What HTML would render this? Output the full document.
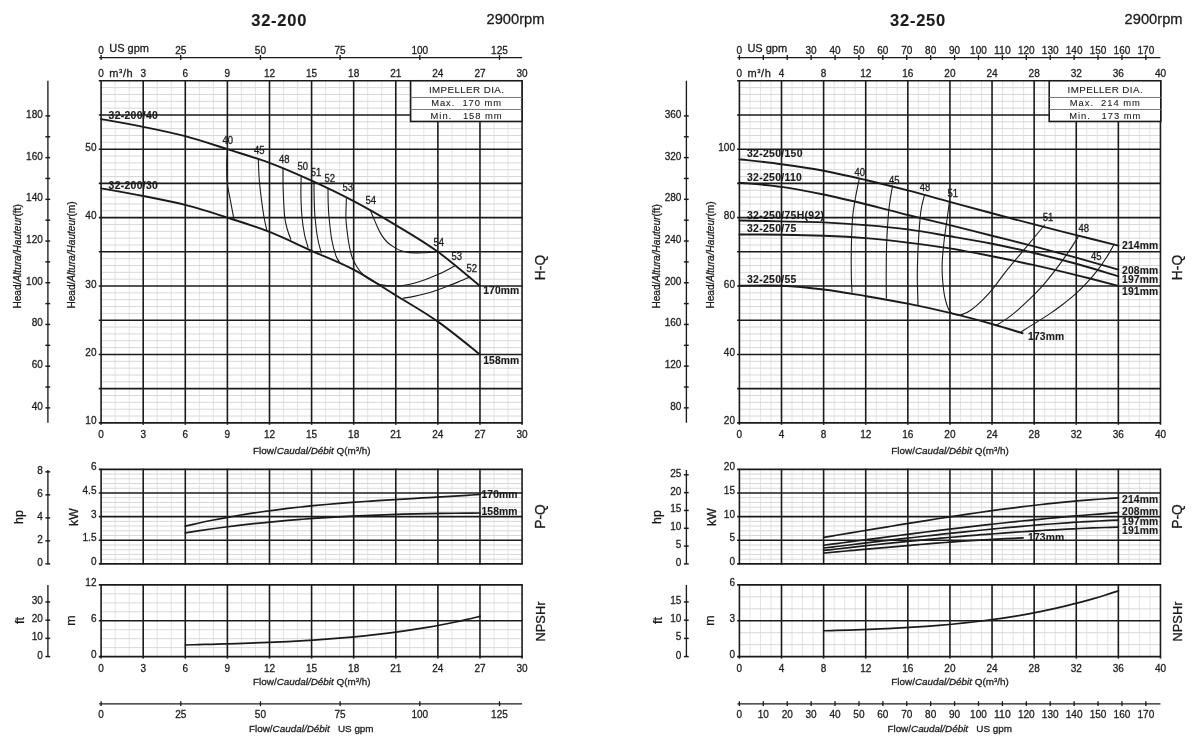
<!DOCTYPE html>
<html lang="en">
<head>
<meta charset="utf-8">
<title>Pump performance curves 32-200 / 32-250</title>
<style>
html,body{margin:0;padding:0;background:#fff;}
body{width:1200px;height:752px;overflow:hidden;}
svg{display:block;}
svg text{font-family:"Liberation Sans", "DejaVu Sans", sans-serif;fill:#1d1a1b;stroke:#231f20;stroke-width:0.3px;white-space:pre;}
</style>
</head>
<body>
<svg width="1200" height="752" viewBox="0 0 1200 752">
<rect x="0" y="0" width="1200" height="752" fill="#ffffff"/>
<text x="279.2" y="25.9" font-size="16.5" text-anchor="middle" font-weight="bold" style="stroke-width:0.12px" letter-spacing="0.75">32-200</text>
<text x="515.5" y="24.3" font-size="14.7" text-anchor="middle">2900rpm</text>
<line x1="99.1" y1="57.6" x2="522.07" y2="57.6" stroke="#1d1a1b" stroke-width="1.35"/>
<line x1="101.1" y1="55.1" x2="101.1" y2="59.9" stroke="#1d1a1b" stroke-width="1.35"/>
<text x="101.1" y="53.75" font-size="10.8" text-anchor="middle" textLength="5.58" lengthAdjust="spacingAndGlyphs">0</text>
<line x1="180.78" y1="55.1" x2="180.78" y2="59.9" stroke="#1d1a1b" stroke-width="1.35"/>
<text x="180.78" y="53.75" font-size="10.8" text-anchor="middle" textLength="11.17" lengthAdjust="spacingAndGlyphs">25</text>
<line x1="260.45" y1="55.1" x2="260.45" y2="59.9" stroke="#1d1a1b" stroke-width="1.35"/>
<text x="260.45" y="53.75" font-size="10.8" text-anchor="middle" textLength="11.17" lengthAdjust="spacingAndGlyphs">50</text>
<line x1="340.13" y1="55.1" x2="340.13" y2="59.9" stroke="#1d1a1b" stroke-width="1.35"/>
<text x="340.13" y="53.75" font-size="10.8" text-anchor="middle" textLength="11.17" lengthAdjust="spacingAndGlyphs">75</text>
<line x1="419.81" y1="55.1" x2="419.81" y2="59.9" stroke="#1d1a1b" stroke-width="1.35"/>
<text x="419.81" y="53.75" font-size="10.8" text-anchor="middle" textLength="16.75" lengthAdjust="spacingAndGlyphs">100</text>
<line x1="499.49" y1="55.1" x2="499.49" y2="59.9" stroke="#1d1a1b" stroke-width="1.35"/>
<text x="499.49" y="53.75" font-size="10.8" text-anchor="middle" textLength="16.75" lengthAdjust="spacingAndGlyphs">125</text>
<text x="109.2" y="52.1" font-size="11">US gpm</text>
<text x="101.1" y="76.6" font-size="10.8" text-anchor="middle" textLength="5.58" lengthAdjust="spacingAndGlyphs">0</text>
<text x="143.2" y="76.6" font-size="10.8" text-anchor="middle" textLength="5.58" lengthAdjust="spacingAndGlyphs">3</text>
<text x="185.29" y="76.6" font-size="10.8" text-anchor="middle" textLength="5.58" lengthAdjust="spacingAndGlyphs">6</text>
<text x="227.39" y="76.6" font-size="10.8" text-anchor="middle" textLength="5.58" lengthAdjust="spacingAndGlyphs">9</text>
<text x="269.49" y="76.6" font-size="10.8" text-anchor="middle" textLength="11.17" lengthAdjust="spacingAndGlyphs">12</text>
<text x="311.59" y="76.6" font-size="10.8" text-anchor="middle" textLength="11.17" lengthAdjust="spacingAndGlyphs">15</text>
<text x="353.68" y="76.6" font-size="10.8" text-anchor="middle" textLength="11.17" lengthAdjust="spacingAndGlyphs">18</text>
<text x="395.78" y="76.6" font-size="10.8" text-anchor="middle" textLength="11.17" lengthAdjust="spacingAndGlyphs">21</text>
<text x="437.88" y="76.6" font-size="10.8" text-anchor="middle" textLength="11.17" lengthAdjust="spacingAndGlyphs">24</text>
<text x="479.97" y="76.6" font-size="10.8" text-anchor="middle" textLength="11.17" lengthAdjust="spacingAndGlyphs">27</text>
<text x="522.07" y="76.6" font-size="10.8" text-anchor="middle" textLength="11.17" lengthAdjust="spacingAndGlyphs">30</text>
<text x="109.2" y="76.6" font-size="11" letter-spacing="0.6">m<tspan font-size="6" dy="-4">3</tspan><tspan dy="4">/h</tspan></text>
<line x1="115.13" y1="80.77" x2="115.13" y2="422.87" stroke="#e3e3e3" stroke-width="1"/>
<line x1="129.16" y1="80.77" x2="129.16" y2="422.87" stroke="#e3e3e3" stroke-width="1"/>
<line x1="157.23" y1="80.77" x2="157.23" y2="422.87" stroke="#e3e3e3" stroke-width="1"/>
<line x1="171.26" y1="80.77" x2="171.26" y2="422.87" stroke="#e3e3e3" stroke-width="1"/>
<line x1="199.33" y1="80.77" x2="199.33" y2="422.87" stroke="#e3e3e3" stroke-width="1"/>
<line x1="213.36" y1="80.77" x2="213.36" y2="422.87" stroke="#e3e3e3" stroke-width="1"/>
<line x1="241.42" y1="80.77" x2="241.42" y2="422.87" stroke="#e3e3e3" stroke-width="1"/>
<line x1="255.46" y1="80.77" x2="255.46" y2="422.87" stroke="#e3e3e3" stroke-width="1"/>
<line x1="283.52" y1="80.77" x2="283.52" y2="422.87" stroke="#e3e3e3" stroke-width="1"/>
<line x1="297.55" y1="80.77" x2="297.55" y2="422.87" stroke="#e3e3e3" stroke-width="1"/>
<line x1="325.62" y1="80.77" x2="325.62" y2="422.87" stroke="#e3e3e3" stroke-width="1"/>
<line x1="339.65" y1="80.77" x2="339.65" y2="422.87" stroke="#e3e3e3" stroke-width="1"/>
<line x1="367.71" y1="80.77" x2="367.71" y2="422.87" stroke="#e3e3e3" stroke-width="1"/>
<line x1="381.75" y1="80.77" x2="381.75" y2="422.87" stroke="#e3e3e3" stroke-width="1"/>
<line x1="409.81" y1="80.77" x2="409.81" y2="422.87" stroke="#e3e3e3" stroke-width="1"/>
<line x1="423.84" y1="80.77" x2="423.84" y2="422.87" stroke="#e3e3e3" stroke-width="1"/>
<line x1="451.91" y1="80.77" x2="451.91" y2="422.87" stroke="#e3e3e3" stroke-width="1"/>
<line x1="465.94" y1="80.77" x2="465.94" y2="422.87" stroke="#e3e3e3" stroke-width="1"/>
<line x1="494.01" y1="80.77" x2="494.01" y2="422.87" stroke="#e3e3e3" stroke-width="1"/>
<line x1="508.04" y1="80.77" x2="508.04" y2="422.87" stroke="#e3e3e3" stroke-width="1"/>
<line x1="101.1" y1="416.03" x2="522.07" y2="416.03" stroke="#d8d8d8" stroke-width="1"/>
<line x1="101.1" y1="409.19" x2="522.07" y2="409.19" stroke="#d8d8d8" stroke-width="1"/>
<line x1="101.1" y1="402.34" x2="522.07" y2="402.34" stroke="#d8d8d8" stroke-width="1"/>
<line x1="101.1" y1="395.5" x2="522.07" y2="395.5" stroke="#d8d8d8" stroke-width="1"/>
<line x1="101.1" y1="381.82" x2="522.07" y2="381.82" stroke="#d8d8d8" stroke-width="1"/>
<line x1="101.1" y1="374.98" x2="522.07" y2="374.98" stroke="#d8d8d8" stroke-width="1"/>
<line x1="101.1" y1="368.13" x2="522.07" y2="368.13" stroke="#d8d8d8" stroke-width="1"/>
<line x1="101.1" y1="361.29" x2="522.07" y2="361.29" stroke="#d8d8d8" stroke-width="1"/>
<line x1="101.1" y1="347.61" x2="522.07" y2="347.61" stroke="#d8d8d8" stroke-width="1"/>
<line x1="101.1" y1="340.77" x2="522.07" y2="340.77" stroke="#d8d8d8" stroke-width="1"/>
<line x1="101.1" y1="333.92" x2="522.07" y2="333.92" stroke="#d8d8d8" stroke-width="1"/>
<line x1="101.1" y1="327.08" x2="522.07" y2="327.08" stroke="#d8d8d8" stroke-width="1"/>
<line x1="101.1" y1="313.4" x2="522.07" y2="313.4" stroke="#d8d8d8" stroke-width="1"/>
<line x1="101.1" y1="306.56" x2="522.07" y2="306.56" stroke="#d8d8d8" stroke-width="1"/>
<line x1="101.1" y1="299.71" x2="522.07" y2="299.71" stroke="#d8d8d8" stroke-width="1"/>
<line x1="101.1" y1="292.87" x2="522.07" y2="292.87" stroke="#d8d8d8" stroke-width="1"/>
<line x1="101.1" y1="279.19" x2="522.07" y2="279.19" stroke="#d8d8d8" stroke-width="1"/>
<line x1="101.1" y1="272.35" x2="522.07" y2="272.35" stroke="#d8d8d8" stroke-width="1"/>
<line x1="101.1" y1="265.5" x2="522.07" y2="265.5" stroke="#d8d8d8" stroke-width="1"/>
<line x1="101.1" y1="258.66" x2="522.07" y2="258.66" stroke="#d8d8d8" stroke-width="1"/>
<line x1="101.1" y1="244.98" x2="522.07" y2="244.98" stroke="#d8d8d8" stroke-width="1"/>
<line x1="101.1" y1="238.14" x2="522.07" y2="238.14" stroke="#d8d8d8" stroke-width="1"/>
<line x1="101.1" y1="231.29" x2="522.07" y2="231.29" stroke="#d8d8d8" stroke-width="1"/>
<line x1="101.1" y1="224.45" x2="522.07" y2="224.45" stroke="#d8d8d8" stroke-width="1"/>
<line x1="101.1" y1="210.77" x2="522.07" y2="210.77" stroke="#d8d8d8" stroke-width="1"/>
<line x1="101.1" y1="203.93" x2="522.07" y2="203.93" stroke="#d8d8d8" stroke-width="1"/>
<line x1="101.1" y1="197.08" x2="522.07" y2="197.08" stroke="#d8d8d8" stroke-width="1"/>
<line x1="101.1" y1="190.24" x2="522.07" y2="190.24" stroke="#d8d8d8" stroke-width="1"/>
<line x1="101.1" y1="176.56" x2="522.07" y2="176.56" stroke="#d8d8d8" stroke-width="1"/>
<line x1="101.1" y1="169.72" x2="522.07" y2="169.72" stroke="#d8d8d8" stroke-width="1"/>
<line x1="101.1" y1="162.87" x2="522.07" y2="162.87" stroke="#d8d8d8" stroke-width="1"/>
<line x1="101.1" y1="156.03" x2="522.07" y2="156.03" stroke="#d8d8d8" stroke-width="1"/>
<line x1="101.1" y1="142.35" x2="522.07" y2="142.35" stroke="#d8d8d8" stroke-width="1"/>
<line x1="101.1" y1="135.51" x2="522.07" y2="135.51" stroke="#d8d8d8" stroke-width="1"/>
<line x1="101.1" y1="128.66" x2="522.07" y2="128.66" stroke="#d8d8d8" stroke-width="1"/>
<line x1="101.1" y1="121.82" x2="522.07" y2="121.82" stroke="#d8d8d8" stroke-width="1"/>
<line x1="101.1" y1="108.14" x2="522.07" y2="108.14" stroke="#d8d8d8" stroke-width="1"/>
<line x1="101.1" y1="101.3" x2="522.07" y2="101.3" stroke="#d8d8d8" stroke-width="1"/>
<line x1="101.1" y1="94.45" x2="522.07" y2="94.45" stroke="#d8d8d8" stroke-width="1"/>
<line x1="101.1" y1="87.61" x2="522.07" y2="87.61" stroke="#d8d8d8" stroke-width="1"/>
<line x1="101.1" y1="80.17" x2="101.1" y2="424.87" stroke="#1d1a1b" stroke-width="1.6"/>
<line x1="143.2" y1="80.17" x2="143.2" y2="424.87" stroke="#1d1a1b" stroke-width="1.6"/>
<line x1="185.29" y1="80.17" x2="185.29" y2="424.87" stroke="#1d1a1b" stroke-width="1.6"/>
<line x1="227.39" y1="80.17" x2="227.39" y2="424.87" stroke="#1d1a1b" stroke-width="1.6"/>
<line x1="269.49" y1="80.17" x2="269.49" y2="424.87" stroke="#1d1a1b" stroke-width="1.6"/>
<line x1="311.59" y1="80.17" x2="311.59" y2="424.87" stroke="#1d1a1b" stroke-width="1.6"/>
<line x1="353.68" y1="80.17" x2="353.68" y2="424.87" stroke="#1d1a1b" stroke-width="1.6"/>
<line x1="395.78" y1="80.17" x2="395.78" y2="424.87" stroke="#1d1a1b" stroke-width="1.6"/>
<line x1="437.88" y1="80.17" x2="437.88" y2="424.87" stroke="#1d1a1b" stroke-width="1.6"/>
<line x1="479.97" y1="80.17" x2="479.97" y2="424.87" stroke="#1d1a1b" stroke-width="1.6"/>
<line x1="522.07" y1="80.17" x2="522.07" y2="424.87" stroke="#1d1a1b" stroke-width="1.6"/>
<line x1="98.8" y1="422.87" x2="522.67" y2="422.87" stroke="#1d1a1b" stroke-width="1.6"/>
<line x1="98.8" y1="388.66" x2="522.67" y2="388.66" stroke="#1d1a1b" stroke-width="1.6"/>
<line x1="98.8" y1="354.45" x2="522.67" y2="354.45" stroke="#1d1a1b" stroke-width="1.6"/>
<line x1="98.8" y1="320.24" x2="522.67" y2="320.24" stroke="#1d1a1b" stroke-width="1.6"/>
<line x1="98.8" y1="286.03" x2="522.67" y2="286.03" stroke="#1d1a1b" stroke-width="1.6"/>
<line x1="98.8" y1="251.82" x2="522.67" y2="251.82" stroke="#1d1a1b" stroke-width="1.6"/>
<line x1="98.8" y1="217.61" x2="522.67" y2="217.61" stroke="#1d1a1b" stroke-width="1.6"/>
<line x1="98.8" y1="183.4" x2="522.67" y2="183.4" stroke="#1d1a1b" stroke-width="1.6"/>
<line x1="98.8" y1="149.19" x2="522.67" y2="149.19" stroke="#1d1a1b" stroke-width="1.6"/>
<line x1="98.8" y1="114.98" x2="522.67" y2="114.98" stroke="#1d1a1b" stroke-width="1.6"/>
<line x1="98.8" y1="80.77" x2="522.67" y2="80.77" stroke="#1d1a1b" stroke-width="1.6"/>
<text x="96.5" y="150.79" font-size="10.8" text-anchor="end" textLength="11.17" lengthAdjust="spacingAndGlyphs">50</text>
<text x="96.5" y="219.21" font-size="10.8" text-anchor="end" textLength="11.17" lengthAdjust="spacingAndGlyphs">40</text>
<text x="96.5" y="287.63" font-size="10.8" text-anchor="end" textLength="11.17" lengthAdjust="spacingAndGlyphs">30</text>
<text x="96.5" y="356.05" font-size="10.8" text-anchor="end" textLength="11.17" lengthAdjust="spacingAndGlyphs">20</text>
<text x="96.5" y="424.47" font-size="10.8" text-anchor="end" textLength="11.17" lengthAdjust="spacingAndGlyphs">10</text>
<text x="101.1" y="437.6" font-size="10.8" text-anchor="middle" textLength="5.58" lengthAdjust="spacingAndGlyphs">0</text>
<text x="143.2" y="437.6" font-size="10.8" text-anchor="middle" textLength="5.58" lengthAdjust="spacingAndGlyphs">3</text>
<text x="185.29" y="437.6" font-size="10.8" text-anchor="middle" textLength="5.58" lengthAdjust="spacingAndGlyphs">6</text>
<text x="227.39" y="437.6" font-size="10.8" text-anchor="middle" textLength="5.58" lengthAdjust="spacingAndGlyphs">9</text>
<text x="269.49" y="437.6" font-size="10.8" text-anchor="middle" textLength="11.17" lengthAdjust="spacingAndGlyphs">12</text>
<text x="311.59" y="437.6" font-size="10.8" text-anchor="middle" textLength="11.17" lengthAdjust="spacingAndGlyphs">15</text>
<text x="353.68" y="437.6" font-size="10.8" text-anchor="middle" textLength="11.17" lengthAdjust="spacingAndGlyphs">18</text>
<text x="395.78" y="437.6" font-size="10.8" text-anchor="middle" textLength="11.17" lengthAdjust="spacingAndGlyphs">21</text>
<text x="437.88" y="437.6" font-size="10.8" text-anchor="middle" textLength="11.17" lengthAdjust="spacingAndGlyphs">24</text>
<text x="479.97" y="437.6" font-size="10.8" text-anchor="middle" textLength="11.17" lengthAdjust="spacingAndGlyphs">27</text>
<text x="522.07" y="437.6" font-size="10.8" text-anchor="middle" textLength="11.17" lengthAdjust="spacingAndGlyphs">30</text>
<text x="370.6" y="454" font-size="9.9" text-anchor="end">Flow/<tspan font-style="italic">Caudal/Débit</tspan> Q(m<tspan font-size="6" dy="-3.4">3</tspan><tspan dy="3.4">/h)</tspan></text>
<line x1="47.9" y1="80.77" x2="47.9" y2="422.87" stroke="#1d1a1b" stroke-width="1.35"/>
<line x1="45.4" y1="407.87" x2="50.2" y2="407.87" stroke="#1d1a1b" stroke-width="1.45"/>
<text x="42.8" y="409.77" font-size="10.8" text-anchor="end" textLength="11.17" lengthAdjust="spacingAndGlyphs">40</text>
<line x1="45.4" y1="387.02" x2="50.2" y2="387.02" stroke="#1d1a1b" stroke-width="1.45"/>
<line x1="45.4" y1="366.16" x2="50.2" y2="366.16" stroke="#1d1a1b" stroke-width="1.45"/>
<text x="42.8" y="368.06" font-size="10.8" text-anchor="end" textLength="11.17" lengthAdjust="spacingAndGlyphs">60</text>
<line x1="45.4" y1="345.31" x2="50.2" y2="345.31" stroke="#1d1a1b" stroke-width="1.45"/>
<line x1="45.4" y1="324.45" x2="50.2" y2="324.45" stroke="#1d1a1b" stroke-width="1.45"/>
<text x="42.8" y="326.35" font-size="10.8" text-anchor="end" textLength="11.17" lengthAdjust="spacingAndGlyphs">80</text>
<line x1="45.4" y1="303.6" x2="50.2" y2="303.6" stroke="#1d1a1b" stroke-width="1.45"/>
<line x1="45.4" y1="282.75" x2="50.2" y2="282.75" stroke="#1d1a1b" stroke-width="1.45"/>
<text x="42.8" y="284.65" font-size="10.8" text-anchor="end" textLength="16.75" lengthAdjust="spacingAndGlyphs">100</text>
<line x1="45.4" y1="261.89" x2="50.2" y2="261.89" stroke="#1d1a1b" stroke-width="1.45"/>
<line x1="45.4" y1="241.04" x2="50.2" y2="241.04" stroke="#1d1a1b" stroke-width="1.45"/>
<text x="42.8" y="242.94" font-size="10.8" text-anchor="end" textLength="16.75" lengthAdjust="spacingAndGlyphs">120</text>
<line x1="45.4" y1="220.18" x2="50.2" y2="220.18" stroke="#1d1a1b" stroke-width="1.45"/>
<line x1="45.4" y1="199.33" x2="50.2" y2="199.33" stroke="#1d1a1b" stroke-width="1.45"/>
<text x="42.8" y="201.23" font-size="10.8" text-anchor="end" textLength="16.75" lengthAdjust="spacingAndGlyphs">140</text>
<line x1="45.4" y1="178.47" x2="50.2" y2="178.47" stroke="#1d1a1b" stroke-width="1.45"/>
<line x1="45.4" y1="157.62" x2="50.2" y2="157.62" stroke="#1d1a1b" stroke-width="1.45"/>
<text x="42.8" y="159.52" font-size="10.8" text-anchor="end" textLength="16.75" lengthAdjust="spacingAndGlyphs">160</text>
<line x1="45.4" y1="136.76" x2="50.2" y2="136.76" stroke="#1d1a1b" stroke-width="1.45"/>
<line x1="45.4" y1="115.91" x2="50.2" y2="115.91" stroke="#1d1a1b" stroke-width="1.45"/>
<text x="42.8" y="117.81" font-size="10.8" text-anchor="end" textLength="16.75" lengthAdjust="spacingAndGlyphs">180</text>
<text x="21.3" y="256.4" font-size="10.1" text-anchor="middle" transform="rotate(-90 21.3 256.4)">Head/<tspan font-style="italic">Altura/Hauteur</tspan>(ft)</text>
<text x="74.6" y="255" font-size="10.1" text-anchor="middle" transform="rotate(-90 74.6 255)">Head/<tspan font-style="italic">Altura/Hauteur</tspan>(m)</text>
<text x="545" y="267.5" font-size="13.8" text-anchor="middle" transform="rotate(-90 545 267.5)">H-Q</text>
<rect x="410.6" y="80.77" width="111.4" height="40.7" fill="#fff" stroke="#1d1a1b" stroke-width="1.6"/>
<line x1="410.6" y1="97.47" x2="522" y2="97.47" stroke="#777" stroke-width="1"/>
<line x1="410.6" y1="109.47" x2="522" y2="109.47" stroke="#777" stroke-width="1"/>
<text x="466.6" y="92.77" font-size="9.8" text-anchor="middle" letter-spacing="0.4" style="stroke-width:0.1px">IMPELLER DIA.</text>
<text x="466.6" y="106.47" font-size="9.4" text-anchor="middle" letter-spacing="0.96" xml:space="preserve" style="stroke-width:0.1px">Max.  170 mm</text>
<text x="466.6" y="118.57" font-size="9.4" text-anchor="middle" letter-spacing="0.97" xml:space="preserve" style="stroke-width:0.1px">Min.   158 mm</text>
<path d="M101.1 119.09C108.12 120.37 129.16 123.97 143.2 126.82C157.23 129.67 171.26 132.46 185.29 136.19C199.33 139.92 213.36 144.74 227.39 149.19C241.42 153.64 255.46 157.63 269.49 162.87C283.52 168.12 297.55 174.28 311.59 180.66C325.62 187.05 339.65 193.78 353.68 201.19C367.71 208.6 381.75 216.7 395.78 225.14C409.81 233.57 423.84 241.67 437.88 251.82C451.91 261.97 472.96 280.33 479.97 286.03" fill="none" stroke="#1d1a1b" stroke-width="1.9" stroke-linecap="round"/>
<path d="M101.1 188.33C108.12 189.6 129.16 193.22 143.2 195.99C157.23 198.76 171.26 201.35 185.29 204.95C199.33 208.56 213.36 213.11 227.39 217.61C241.42 222.11 255.46 226.45 269.49 231.98C283.52 237.51 297.55 244.52 311.59 250.79C325.62 257.07 339.65 262.2 353.68 269.61C367.71 277.02 381.75 286.6 395.78 295.27C409.81 303.93 423.84 311.74 437.88 321.61C451.91 331.47 472.96 348.98 479.97 354.45" fill="none" stroke="#1d1a1b" stroke-width="1.9" stroke-linecap="round"/>
<text x="108.6" y="119" font-size="10.4" font-weight="bold" style="stroke-width:0.12px" letter-spacing="0.3">32-200/40</text>
<text x="108.6" y="188.8" font-size="10.4" font-weight="bold" style="stroke-width:0.12px" letter-spacing="0.3">32-200/30</text>
<text x="483.2" y="293.8" font-size="10.3" font-weight="bold" style="stroke-width:0.12px" letter-spacing="0.15">170mm</text>
<text x="483.2" y="364.2" font-size="10.3" font-weight="bold" style="stroke-width:0.12px" letter-spacing="0.15">158mm</text>
<path d="M227.3 149.2C227.2 152 226.7 160.37 226.7 166C226.7 171.63 226.7 177.33 227.3 183C227.9 188.67 229.18 193.9 230.3 200C231.42 206.1 233.38 216.33 234 219.6" fill="none" stroke="#1d1a1b" stroke-width="1.1" stroke-linecap="round"/>
<path d="M258.3 160C258.47 163.33 258.77 173.33 259.3 180C259.83 186.67 260.72 193.83 261.5 200C262.28 206.17 263.1 211.9 264 217C264.9 222.1 266.42 228.33 266.9 230.6" fill="none" stroke="#1d1a1b" stroke-width="1.1" stroke-linecap="round"/>
<path d="M283 169.3C283.03 172.75 282.92 182.05 283.2 190C283.48 197.95 283.98 210.33 284.7 217C285.42 223.67 286.48 226.3 287.5 230C288.52 233.7 290.25 237.67 290.8 239.2" fill="none" stroke="#1d1a1b" stroke-width="1.1" stroke-linecap="round"/>
<path d="M301.2 176.4C301.15 179.5 300.77 188.18 300.9 195C301.03 201.82 301.38 210.63 302 217.3C302.62 223.97 303.6 229.98 304.6 235C305.6 240.02 307.43 245.33 308 247.4" fill="none" stroke="#1d1a1b" stroke-width="1.1" stroke-linecap="round"/>
<path d="M314 181.6C314.03 184.67 314.03 194.1 314.2 200C314.37 205.9 314.43 210.67 315 217C315.57 223.33 316.55 232 317.6 238C318.65 244 320.68 250.5 321.3 253" fill="none" stroke="#1d1a1b" stroke-width="1.1" stroke-linecap="round"/>
<path d="M328 188.4C328.03 190.83 328.03 198.23 328.2 203C328.37 207.77 328.4 210.83 329 217C329.6 223.17 330.63 233.5 331.8 240C332.97 246.5 334.67 252.23 336 256C337.33 259.77 339.17 261.5 339.8 262.6" fill="none" stroke="#1d1a1b" stroke-width="1.1" stroke-linecap="round"/>
<path d="M346.4 198.4C346.32 201.5 345.77 211.4 345.9 217C346.03 222.6 346.6 227 347.2 232C347.8 237 348.63 242.67 349.5 247C350.37 251.33 351.15 254.67 352.4 258C353.65 261.33 355.32 264.33 357 267C358.68 269.67 360.33 271.87 362.5 274C364.67 276.13 367.08 278.03 370 279.8C372.92 281.57 375.58 283.57 380 284.6C384.42 285.63 391.5 286.07 396.5 286C401.5 285.93 405.25 285.25 410 284.2C414.75 283.15 420 281.47 425 279.7C430 277.93 435.07 275.88 440 273.6C444.93 271.32 452.17 267.27 454.6 266" fill="none" stroke="#1d1a1b" stroke-width="1.1" stroke-linecap="round"/>
<path d="M370.4 210.6C370.88 211.72 372.2 214.73 373.3 217.3C374.4 219.87 375.67 223.12 377 226C378.33 228.88 379.63 231.93 381.3 234.6C382.97 237.27 384.77 239.83 387 242C389.23 244.17 392.2 246.1 394.7 247.6C397.2 249.1 399.45 250.17 402 251C404.55 251.83 406.33 252.3 410 252.6C413.67 252.9 419.4 252.93 424 252.8C428.6 252.67 435.33 251.97 437.6 251.8" fill="none" stroke="#1d1a1b" stroke-width="1.1" stroke-linecap="round"/>
<path d="M403 298.2C404.83 297.9 410.33 297.15 414 296.4C417.67 295.65 421.33 294.7 425 293.7C428.67 292.7 432.25 291.65 436 290.4C439.75 289.15 443.67 287.67 447.5 286.2C451.33 284.73 455.25 283.13 459 281.6C462.75 280.07 468.17 277.77 470 277" fill="none" stroke="#1d1a1b" stroke-width="1.1" stroke-linecap="round"/>
<text x="222.5" y="144" font-size="10.2" textLength="10.55" lengthAdjust="spacingAndGlyphs">40</text>
<text x="254" y="153.6" font-size="10.2" textLength="10.55" lengthAdjust="spacingAndGlyphs">45</text>
<text x="279" y="163" font-size="10.2" textLength="10.55" lengthAdjust="spacingAndGlyphs">48</text>
<text x="297.5" y="170.2" font-size="10.2" textLength="10.55" lengthAdjust="spacingAndGlyphs">50</text>
<text x="310.8" y="176.2" font-size="10.2" textLength="10.55" lengthAdjust="spacingAndGlyphs">51</text>
<text x="324.6" y="182.4" font-size="10.2" textLength="10.55" lengthAdjust="spacingAndGlyphs">52</text>
<text x="342.6" y="191.4" font-size="10.2" textLength="10.55" lengthAdjust="spacingAndGlyphs">53</text>
<text x="365.4" y="204" font-size="10.2" textLength="10.55" lengthAdjust="spacingAndGlyphs">54</text>
<text x="433.4" y="246.2" font-size="10.2" textLength="10.55" lengthAdjust="spacingAndGlyphs">54</text>
<text x="451.6" y="259.8" font-size="10.2" textLength="10.55" lengthAdjust="spacingAndGlyphs">53</text>
<text x="466.4" y="271.8" font-size="10.2" textLength="10.55" lengthAdjust="spacingAndGlyphs">52</text>
<line x1="115.13" y1="469.33" x2="115.13" y2="563.9" stroke="#e3e3e3" stroke-width="1"/>
<line x1="129.16" y1="469.33" x2="129.16" y2="563.9" stroke="#e3e3e3" stroke-width="1"/>
<line x1="157.23" y1="469.33" x2="157.23" y2="563.9" stroke="#e3e3e3" stroke-width="1"/>
<line x1="171.26" y1="469.33" x2="171.26" y2="563.9" stroke="#e3e3e3" stroke-width="1"/>
<line x1="199.33" y1="469.33" x2="199.33" y2="563.9" stroke="#e3e3e3" stroke-width="1"/>
<line x1="213.36" y1="469.33" x2="213.36" y2="563.9" stroke="#e3e3e3" stroke-width="1"/>
<line x1="241.42" y1="469.33" x2="241.42" y2="563.9" stroke="#e3e3e3" stroke-width="1"/>
<line x1="255.46" y1="469.33" x2="255.46" y2="563.9" stroke="#e3e3e3" stroke-width="1"/>
<line x1="283.52" y1="469.33" x2="283.52" y2="563.9" stroke="#e3e3e3" stroke-width="1"/>
<line x1="297.55" y1="469.33" x2="297.55" y2="563.9" stroke="#e3e3e3" stroke-width="1"/>
<line x1="325.62" y1="469.33" x2="325.62" y2="563.9" stroke="#e3e3e3" stroke-width="1"/>
<line x1="339.65" y1="469.33" x2="339.65" y2="563.9" stroke="#e3e3e3" stroke-width="1"/>
<line x1="367.71" y1="469.33" x2="367.71" y2="563.9" stroke="#e3e3e3" stroke-width="1"/>
<line x1="381.75" y1="469.33" x2="381.75" y2="563.9" stroke="#e3e3e3" stroke-width="1"/>
<line x1="409.81" y1="469.33" x2="409.81" y2="563.9" stroke="#e3e3e3" stroke-width="1"/>
<line x1="423.84" y1="469.33" x2="423.84" y2="563.9" stroke="#e3e3e3" stroke-width="1"/>
<line x1="451.91" y1="469.33" x2="451.91" y2="563.9" stroke="#e3e3e3" stroke-width="1"/>
<line x1="465.94" y1="469.33" x2="465.94" y2="563.9" stroke="#e3e3e3" stroke-width="1"/>
<line x1="494.01" y1="469.33" x2="494.01" y2="563.9" stroke="#e3e3e3" stroke-width="1"/>
<line x1="508.04" y1="469.33" x2="508.04" y2="563.9" stroke="#e3e3e3" stroke-width="1"/>
<line x1="101.1" y1="559.17" x2="522.07" y2="559.17" stroke="#d8d8d8" stroke-width="1"/>
<line x1="101.1" y1="554.44" x2="522.07" y2="554.44" stroke="#d8d8d8" stroke-width="1"/>
<line x1="101.1" y1="549.71" x2="522.07" y2="549.71" stroke="#d8d8d8" stroke-width="1"/>
<line x1="101.1" y1="544.99" x2="522.07" y2="544.99" stroke="#d8d8d8" stroke-width="1"/>
<line x1="101.1" y1="535.53" x2="522.07" y2="535.53" stroke="#d8d8d8" stroke-width="1"/>
<line x1="101.1" y1="530.8" x2="522.07" y2="530.8" stroke="#d8d8d8" stroke-width="1"/>
<line x1="101.1" y1="526.07" x2="522.07" y2="526.07" stroke="#d8d8d8" stroke-width="1"/>
<line x1="101.1" y1="521.34" x2="522.07" y2="521.34" stroke="#d8d8d8" stroke-width="1"/>
<line x1="101.1" y1="511.89" x2="522.07" y2="511.89" stroke="#d8d8d8" stroke-width="1"/>
<line x1="101.1" y1="507.16" x2="522.07" y2="507.16" stroke="#d8d8d8" stroke-width="1"/>
<line x1="101.1" y1="502.43" x2="522.07" y2="502.43" stroke="#d8d8d8" stroke-width="1"/>
<line x1="101.1" y1="497.7" x2="522.07" y2="497.7" stroke="#d8d8d8" stroke-width="1"/>
<line x1="101.1" y1="488.24" x2="522.07" y2="488.24" stroke="#d8d8d8" stroke-width="1"/>
<line x1="101.1" y1="483.52" x2="522.07" y2="483.52" stroke="#d8d8d8" stroke-width="1"/>
<line x1="101.1" y1="478.79" x2="522.07" y2="478.79" stroke="#d8d8d8" stroke-width="1"/>
<line x1="101.1" y1="474.06" x2="522.07" y2="474.06" stroke="#d8d8d8" stroke-width="1"/>
<line x1="101.1" y1="468.73" x2="101.1" y2="564.6" stroke="#1d1a1b" stroke-width="1.6"/>
<line x1="143.2" y1="468.73" x2="143.2" y2="564.6" stroke="#1d1a1b" stroke-width="1.6"/>
<line x1="185.29" y1="468.73" x2="185.29" y2="564.6" stroke="#1d1a1b" stroke-width="1.6"/>
<line x1="227.39" y1="468.73" x2="227.39" y2="564.6" stroke="#1d1a1b" stroke-width="1.6"/>
<line x1="269.49" y1="468.73" x2="269.49" y2="564.6" stroke="#1d1a1b" stroke-width="1.6"/>
<line x1="311.59" y1="468.73" x2="311.59" y2="564.6" stroke="#1d1a1b" stroke-width="1.6"/>
<line x1="353.68" y1="468.73" x2="353.68" y2="564.6" stroke="#1d1a1b" stroke-width="1.6"/>
<line x1="395.78" y1="468.73" x2="395.78" y2="564.6" stroke="#1d1a1b" stroke-width="1.6"/>
<line x1="437.88" y1="468.73" x2="437.88" y2="564.6" stroke="#1d1a1b" stroke-width="1.6"/>
<line x1="479.97" y1="468.73" x2="479.97" y2="564.6" stroke="#1d1a1b" stroke-width="1.6"/>
<line x1="522.07" y1="468.73" x2="522.07" y2="564.6" stroke="#1d1a1b" stroke-width="1.6"/>
<line x1="98.8" y1="563.9" x2="522.67" y2="563.9" stroke="#1d1a1b" stroke-width="1.6"/>
<line x1="98.8" y1="540.26" x2="522.67" y2="540.26" stroke="#1d1a1b" stroke-width="1.6"/>
<line x1="98.8" y1="516.62" x2="522.67" y2="516.62" stroke="#1d1a1b" stroke-width="1.6"/>
<line x1="98.8" y1="492.97" x2="522.67" y2="492.97" stroke="#1d1a1b" stroke-width="1.6"/>
<line x1="98.8" y1="469.33" x2="522.67" y2="469.33" stroke="#1d1a1b" stroke-width="1.6"/>
<text x="96.5" y="470.48" font-size="10.8" text-anchor="end" textLength="5.58" lengthAdjust="spacingAndGlyphs">6</text>
<text x="96.5" y="494.12" font-size="10.8" text-anchor="end" textLength="13.96" lengthAdjust="spacingAndGlyphs">4.5</text>
<text x="96.5" y="517.76" font-size="10.8" text-anchor="end" textLength="5.58" lengthAdjust="spacingAndGlyphs">3</text>
<text x="96.5" y="541.41" font-size="10.8" text-anchor="end" textLength="13.96" lengthAdjust="spacingAndGlyphs">1.5</text>
<text x="96.5" y="565.05" font-size="10.8" text-anchor="end" textLength="5.58" lengthAdjust="spacingAndGlyphs">0</text>
<line x1="47.9" y1="469.93" x2="47.9" y2="563.9" stroke="#1d1a1b" stroke-width="1.35"/>
<line x1="45.4" y1="563.9" x2="50.2" y2="563.9" stroke="#1d1a1b" stroke-width="1.45"/>
<text x="42.8" y="565.8" font-size="10.8" text-anchor="end" textLength="5.58" lengthAdjust="spacingAndGlyphs">0</text>
<line x1="45.4" y1="540.89" x2="50.2" y2="540.89" stroke="#1d1a1b" stroke-width="1.45"/>
<text x="42.8" y="542.79" font-size="10.8" text-anchor="end" textLength="5.58" lengthAdjust="spacingAndGlyphs">2</text>
<line x1="45.4" y1="517.88" x2="50.2" y2="517.88" stroke="#1d1a1b" stroke-width="1.45"/>
<text x="42.8" y="519.78" font-size="10.8" text-anchor="end" textLength="5.58" lengthAdjust="spacingAndGlyphs">4</text>
<line x1="45.4" y1="494.86" x2="50.2" y2="494.86" stroke="#1d1a1b" stroke-width="1.45"/>
<text x="42.8" y="496.76" font-size="10.8" text-anchor="end" textLength="5.58" lengthAdjust="spacingAndGlyphs">6</text>
<line x1="45.4" y1="471.85" x2="50.2" y2="471.85" stroke="#1d1a1b" stroke-width="1.45"/>
<text x="42.8" y="473.75" font-size="10.8" text-anchor="end" textLength="5.58" lengthAdjust="spacingAndGlyphs">8</text>
<text x="22.8" y="517" font-size="12.4" text-anchor="middle" transform="rotate(-90 22.8 517)">hp</text>
<text x="77.5" y="517" font-size="12.3" text-anchor="middle" transform="rotate(-90 77.5 517)">kW</text>
<text x="545" y="516.5" font-size="13.8" text-anchor="middle" transform="rotate(-90 545 516.5)">P-Q</text>
<path d="M185.29 526.19C187.43 525.7 193.84 524.19 198.11 523.25C202.38 522.3 206.65 521.4 210.92 520.54C215.19 519.67 219.46 518.84 223.73 518.05C228 517.25 232.27 516.5 236.54 515.77C240.81 515.04 245.08 514.35 249.35 513.68C253.63 513.02 257.9 512.39 262.17 511.78C266.44 511.17 270.71 510.59 274.98 510.04C279.25 509.49 283.52 508.96 287.79 508.46C292.06 507.96 296.33 507.48 300.6 507.02C304.87 506.56 309.14 506.13 313.42 505.71C317.69 505.29 321.96 504.9 326.23 504.51C330.5 504.13 334.77 503.77 339.04 503.42C343.31 503.07 347.58 502.74 351.85 502.42C356.12 502.1 360.39 501.79 364.66 501.49C368.93 501.2 373.21 500.91 377.48 500.63C381.75 500.35 386.02 500.09 390.29 499.82C394.56 499.56 398.83 499.3 403.1 499.05C407.37 498.79 411.64 498.55 415.91 498.3C420.18 498.05 424.45 497.81 428.72 497.56C433 497.31 437.27 497.07 441.54 496.82C445.81 496.57 450.08 496.32 454.35 496.07C458.62 495.81 462.89 495.55 467.16 495.28C471.43 495.02 477.84 494.6 479.97 494.46" fill="none" stroke="#1d1a1b" stroke-width="1.7" stroke-linecap="round"/>
<path d="M185.29 532.93C187.43 532.6 193.84 531.56 198.11 530.91C202.38 530.26 206.65 529.63 210.92 529.03C215.19 528.42 219.46 527.84 223.73 527.28C228 526.72 232.27 526.18 236.54 525.67C240.81 525.15 245.08 524.65 249.35 524.18C253.63 523.7 257.9 523.24 262.17 522.81C266.44 522.37 270.71 521.95 274.98 521.55C279.25 521.15 283.52 520.77 287.79 520.4C292.06 520.04 296.33 519.69 300.6 519.36C304.87 519.03 309.14 518.72 313.42 518.42C317.69 518.13 321.96 517.85 326.23 517.58C330.5 517.31 334.77 517.06 339.04 516.82C343.31 516.59 347.58 516.36 351.85 516.15C356.12 515.94 360.39 515.75 364.66 515.56C368.93 515.38 373.21 515.21 377.48 515.05C381.75 514.89 386.02 514.74 390.29 514.6C394.56 514.47 398.83 514.34 403.1 514.22C407.37 514.1 411.64 514 415.91 513.9C420.18 513.8 424.45 513.71 428.72 513.63C433 513.55 437.27 513.48 441.54 513.42C445.81 513.35 450.08 513.29 454.35 513.24C458.62 513.19 462.89 513.15 467.16 513.11C471.43 513.07 477.84 513.03 479.97 513.01" fill="none" stroke="#1d1a1b" stroke-width="1.7" stroke-linecap="round"/>
<text x="481.4" y="497.6" font-size="10.3" font-weight="bold" style="stroke-width:0.12px" letter-spacing="0.15">170mm</text>
<text x="481.4" y="514.6" font-size="10.3" font-weight="bold" style="stroke-width:0.12px" letter-spacing="0.15">158mm</text>
<line x1="115.13" y1="584.9" x2="115.13" y2="656.6" stroke="#e3e3e3" stroke-width="1"/>
<line x1="129.16" y1="584.9" x2="129.16" y2="656.6" stroke="#e3e3e3" stroke-width="1"/>
<line x1="157.23" y1="584.9" x2="157.23" y2="656.6" stroke="#e3e3e3" stroke-width="1"/>
<line x1="171.26" y1="584.9" x2="171.26" y2="656.6" stroke="#e3e3e3" stroke-width="1"/>
<line x1="199.33" y1="584.9" x2="199.33" y2="656.6" stroke="#e3e3e3" stroke-width="1"/>
<line x1="213.36" y1="584.9" x2="213.36" y2="656.6" stroke="#e3e3e3" stroke-width="1"/>
<line x1="241.42" y1="584.9" x2="241.42" y2="656.6" stroke="#e3e3e3" stroke-width="1"/>
<line x1="255.46" y1="584.9" x2="255.46" y2="656.6" stroke="#e3e3e3" stroke-width="1"/>
<line x1="283.52" y1="584.9" x2="283.52" y2="656.6" stroke="#e3e3e3" stroke-width="1"/>
<line x1="297.55" y1="584.9" x2="297.55" y2="656.6" stroke="#e3e3e3" stroke-width="1"/>
<line x1="325.62" y1="584.9" x2="325.62" y2="656.6" stroke="#e3e3e3" stroke-width="1"/>
<line x1="339.65" y1="584.9" x2="339.65" y2="656.6" stroke="#e3e3e3" stroke-width="1"/>
<line x1="367.71" y1="584.9" x2="367.71" y2="656.6" stroke="#e3e3e3" stroke-width="1"/>
<line x1="381.75" y1="584.9" x2="381.75" y2="656.6" stroke="#e3e3e3" stroke-width="1"/>
<line x1="409.81" y1="584.9" x2="409.81" y2="656.6" stroke="#e3e3e3" stroke-width="1"/>
<line x1="423.84" y1="584.9" x2="423.84" y2="656.6" stroke="#e3e3e3" stroke-width="1"/>
<line x1="451.91" y1="584.9" x2="451.91" y2="656.6" stroke="#e3e3e3" stroke-width="1"/>
<line x1="465.94" y1="584.9" x2="465.94" y2="656.6" stroke="#e3e3e3" stroke-width="1"/>
<line x1="494.01" y1="584.9" x2="494.01" y2="656.6" stroke="#e3e3e3" stroke-width="1"/>
<line x1="508.04" y1="584.9" x2="508.04" y2="656.6" stroke="#e3e3e3" stroke-width="1"/>
<line x1="101.1" y1="647.64" x2="522.07" y2="647.64" stroke="#d8d8d8" stroke-width="1"/>
<line x1="101.1" y1="638.67" x2="522.07" y2="638.67" stroke="#d8d8d8" stroke-width="1"/>
<line x1="101.1" y1="629.71" x2="522.07" y2="629.71" stroke="#d8d8d8" stroke-width="1"/>
<line x1="101.1" y1="611.79" x2="522.07" y2="611.79" stroke="#d8d8d8" stroke-width="1"/>
<line x1="101.1" y1="602.83" x2="522.07" y2="602.83" stroke="#d8d8d8" stroke-width="1"/>
<line x1="101.1" y1="593.86" x2="522.07" y2="593.86" stroke="#d8d8d8" stroke-width="1"/>
<line x1="101.1" y1="584.3" x2="101.1" y2="658.6" stroke="#1d1a1b" stroke-width="1.6"/>
<line x1="143.2" y1="584.3" x2="143.2" y2="658.6" stroke="#1d1a1b" stroke-width="1.6"/>
<line x1="185.29" y1="584.3" x2="185.29" y2="658.6" stroke="#1d1a1b" stroke-width="1.6"/>
<line x1="227.39" y1="584.3" x2="227.39" y2="658.6" stroke="#1d1a1b" stroke-width="1.6"/>
<line x1="269.49" y1="584.3" x2="269.49" y2="658.6" stroke="#1d1a1b" stroke-width="1.6"/>
<line x1="311.59" y1="584.3" x2="311.59" y2="658.6" stroke="#1d1a1b" stroke-width="1.6"/>
<line x1="353.68" y1="584.3" x2="353.68" y2="658.6" stroke="#1d1a1b" stroke-width="1.6"/>
<line x1="395.78" y1="584.3" x2="395.78" y2="658.6" stroke="#1d1a1b" stroke-width="1.6"/>
<line x1="437.88" y1="584.3" x2="437.88" y2="658.6" stroke="#1d1a1b" stroke-width="1.6"/>
<line x1="479.97" y1="584.3" x2="479.97" y2="658.6" stroke="#1d1a1b" stroke-width="1.6"/>
<line x1="522.07" y1="584.3" x2="522.07" y2="658.6" stroke="#1d1a1b" stroke-width="1.6"/>
<line x1="98.8" y1="656.6" x2="522.67" y2="656.6" stroke="#1d1a1b" stroke-width="1.6"/>
<line x1="98.8" y1="620.75" x2="522.67" y2="620.75" stroke="#1d1a1b" stroke-width="1.6"/>
<line x1="98.8" y1="584.9" x2="522.67" y2="584.9" stroke="#1d1a1b" stroke-width="1.6"/>
<text x="96.5" y="586.05" font-size="10.8" text-anchor="end" textLength="11.17" lengthAdjust="spacingAndGlyphs">12</text>
<text x="96.5" y="621.9" font-size="10.8" text-anchor="end" textLength="5.58" lengthAdjust="spacingAndGlyphs">6</text>
<text x="96.5" y="657.75" font-size="10.8" text-anchor="end" textLength="5.58" lengthAdjust="spacingAndGlyphs">0</text>
<line x1="47.9" y1="584.9" x2="47.9" y2="656.6" stroke="#1d1a1b" stroke-width="1.35"/>
<line x1="45.4" y1="656.6" x2="50.2" y2="656.6" stroke="#1d1a1b" stroke-width="1.45"/>
<text x="42.8" y="658.5" font-size="10.8" text-anchor="end" textLength="5.58" lengthAdjust="spacingAndGlyphs">0</text>
<line x1="45.4" y1="638.39" x2="50.2" y2="638.39" stroke="#1d1a1b" stroke-width="1.45"/>
<text x="42.8" y="640.29" font-size="10.8" text-anchor="end" textLength="11.17" lengthAdjust="spacingAndGlyphs">10</text>
<line x1="45.4" y1="620.18" x2="50.2" y2="620.18" stroke="#1d1a1b" stroke-width="1.45"/>
<text x="42.8" y="622.08" font-size="10.8" text-anchor="end" textLength="11.17" lengthAdjust="spacingAndGlyphs">20</text>
<line x1="45.4" y1="601.96" x2="50.2" y2="601.96" stroke="#1d1a1b" stroke-width="1.45"/>
<text x="42.8" y="603.86" font-size="10.8" text-anchor="end" textLength="11.17" lengthAdjust="spacingAndGlyphs">30</text>
<text x="23.6" y="620.5" font-size="12.8" text-anchor="middle" transform="rotate(-90 23.6 620.5)">ft</text>
<text x="75" y="620.5" font-size="12.4" text-anchor="middle" transform="rotate(-90 75 620.5)">m</text>
<text x="545" y="621.5" font-size="12.8" text-anchor="middle" transform="rotate(-90 545 621.5)">NPSHr</text>
<path d="M185.29 644.98C187.43 644.92 193.84 644.75 198.11 644.63C202.38 644.52 206.65 644.4 210.92 644.29C215.19 644.17 219.46 644.05 223.73 643.93C228 643.8 232.27 643.68 236.54 643.54C240.81 643.41 245.08 643.27 249.35 643.12C253.63 642.97 257.9 642.82 262.17 642.65C266.44 642.49 270.71 642.31 274.98 642.13C279.25 641.94 283.52 641.74 287.79 641.53C292.06 641.31 296.33 641.09 300.6 640.85C304.87 640.61 309.14 640.35 313.42 640.08C317.69 639.8 321.96 639.51 326.23 639.2C330.5 638.89 334.77 638.56 339.04 638.21C343.31 637.86 347.58 637.49 351.85 637.09C356.12 636.69 360.39 636.28 364.66 635.83C368.93 635.39 373.21 634.92 377.48 634.43C381.75 633.93 386.02 633.41 390.29 632.86C394.56 632.31 398.83 631.73 403.1 631.12C407.37 630.51 411.64 629.87 415.91 629.2C420.18 628.52 424.45 627.82 428.72 627.08C433 626.34 437.27 625.57 441.54 624.75C445.81 623.94 450.08 623.1 454.35 622.21C458.62 621.33 462.89 620.41 467.16 619.44C471.43 618.48 477.84 616.93 479.97 616.43" fill="none" stroke="#1d1a1b" stroke-width="1.7" stroke-linecap="round"/>
<text x="101.1" y="671.6" font-size="10.8" text-anchor="middle" textLength="5.58" lengthAdjust="spacingAndGlyphs">0</text>
<text x="143.2" y="671.6" font-size="10.8" text-anchor="middle" textLength="5.58" lengthAdjust="spacingAndGlyphs">3</text>
<text x="185.29" y="671.6" font-size="10.8" text-anchor="middle" textLength="5.58" lengthAdjust="spacingAndGlyphs">6</text>
<text x="227.39" y="671.6" font-size="10.8" text-anchor="middle" textLength="5.58" lengthAdjust="spacingAndGlyphs">9</text>
<text x="269.49" y="671.6" font-size="10.8" text-anchor="middle" textLength="11.17" lengthAdjust="spacingAndGlyphs">12</text>
<text x="311.59" y="671.6" font-size="10.8" text-anchor="middle" textLength="11.17" lengthAdjust="spacingAndGlyphs">15</text>
<text x="353.68" y="671.6" font-size="10.8" text-anchor="middle" textLength="11.17" lengthAdjust="spacingAndGlyphs">18</text>
<text x="395.78" y="671.6" font-size="10.8" text-anchor="middle" textLength="11.17" lengthAdjust="spacingAndGlyphs">21</text>
<text x="437.88" y="671.6" font-size="10.8" text-anchor="middle" textLength="11.17" lengthAdjust="spacingAndGlyphs">24</text>
<text x="479.97" y="671.6" font-size="10.8" text-anchor="middle" textLength="11.17" lengthAdjust="spacingAndGlyphs">27</text>
<text x="522.07" y="671.6" font-size="10.8" text-anchor="middle" textLength="11.17" lengthAdjust="spacingAndGlyphs">30</text>
<text x="370.6" y="685.4" font-size="9.9" text-anchor="end">Flow/<tspan font-style="italic">Caudal/Débit</tspan> Q(m<tspan font-size="6" dy="-3.4">3</tspan><tspan dy="3.4">/h)</tspan></text>
<line x1="99.1" y1="703.8" x2="522.07" y2="703.8" stroke="#1d1a1b" stroke-width="1.35"/>
<line x1="101.1" y1="701.3" x2="101.1" y2="706.1" stroke="#1d1a1b" stroke-width="1.35"/>
<text x="101.1" y="718.4" font-size="10.8" text-anchor="middle" textLength="5.58" lengthAdjust="spacingAndGlyphs">0</text>
<line x1="180.78" y1="701.3" x2="180.78" y2="706.1" stroke="#1d1a1b" stroke-width="1.35"/>
<text x="180.78" y="718.4" font-size="10.8" text-anchor="middle" textLength="11.17" lengthAdjust="spacingAndGlyphs">25</text>
<line x1="260.45" y1="701.3" x2="260.45" y2="706.1" stroke="#1d1a1b" stroke-width="1.35"/>
<text x="260.45" y="718.4" font-size="10.8" text-anchor="middle" textLength="11.17" lengthAdjust="spacingAndGlyphs">50</text>
<line x1="340.13" y1="701.3" x2="340.13" y2="706.1" stroke="#1d1a1b" stroke-width="1.35"/>
<text x="340.13" y="718.4" font-size="10.8" text-anchor="middle" textLength="11.17" lengthAdjust="spacingAndGlyphs">75</text>
<line x1="419.81" y1="701.3" x2="419.81" y2="706.1" stroke="#1d1a1b" stroke-width="1.35"/>
<text x="419.81" y="718.4" font-size="10.8" text-anchor="middle" textLength="16.75" lengthAdjust="spacingAndGlyphs">100</text>
<line x1="499.49" y1="701.3" x2="499.49" y2="706.1" stroke="#1d1a1b" stroke-width="1.35"/>
<text x="499.49" y="718.4" font-size="10.8" text-anchor="middle" textLength="16.75" lengthAdjust="spacingAndGlyphs">125</text>
<text x="373.6" y="732.1" font-size="9.9" text-anchor="end">Flow/<tspan font-style="italic">Caudal/Débit</tspan><tspan xml:space="preserve">   US gpm</tspan></text>
<text x="918" y="25.9" font-size="16.5" text-anchor="middle" font-weight="bold" style="stroke-width:0.12px" letter-spacing="0.75">32-250</text>
<text x="1153.6" y="24.3" font-size="14.7" text-anchor="middle">2900rpm</text>
<line x1="737.4" y1="57.6" x2="1160.47" y2="57.6" stroke="#1d1a1b" stroke-width="1.35"/>
<line x1="739.4" y1="55.1" x2="739.4" y2="59.9" stroke="#1d1a1b" stroke-width="1.35"/>
<text x="739.4" y="53.75" font-size="10.8" text-anchor="middle" textLength="5.58" lengthAdjust="spacingAndGlyphs">0</text>
<line x1="763.31" y1="55.1" x2="763.31" y2="59.9" stroke="#1d1a1b" stroke-width="1.35"/>
<line x1="787.22" y1="55.1" x2="787.22" y2="59.9" stroke="#1d1a1b" stroke-width="1.35"/>
<line x1="811.13" y1="55.1" x2="811.13" y2="59.9" stroke="#1d1a1b" stroke-width="1.35"/>
<text x="811.13" y="53.75" font-size="10.8" text-anchor="middle" textLength="11.17" lengthAdjust="spacingAndGlyphs">30</text>
<line x1="835.04" y1="55.1" x2="835.04" y2="59.9" stroke="#1d1a1b" stroke-width="1.35"/>
<text x="835.04" y="53.75" font-size="10.8" text-anchor="middle" textLength="11.17" lengthAdjust="spacingAndGlyphs">40</text>
<line x1="858.94" y1="55.1" x2="858.94" y2="59.9" stroke="#1d1a1b" stroke-width="1.35"/>
<text x="858.94" y="53.75" font-size="10.8" text-anchor="middle" textLength="11.17" lengthAdjust="spacingAndGlyphs">50</text>
<line x1="882.85" y1="55.1" x2="882.85" y2="59.9" stroke="#1d1a1b" stroke-width="1.35"/>
<text x="882.85" y="53.75" font-size="10.8" text-anchor="middle" textLength="11.17" lengthAdjust="spacingAndGlyphs">60</text>
<line x1="906.76" y1="55.1" x2="906.76" y2="59.9" stroke="#1d1a1b" stroke-width="1.35"/>
<text x="906.76" y="53.75" font-size="10.8" text-anchor="middle" textLength="11.17" lengthAdjust="spacingAndGlyphs">70</text>
<line x1="930.67" y1="55.1" x2="930.67" y2="59.9" stroke="#1d1a1b" stroke-width="1.35"/>
<text x="930.67" y="53.75" font-size="10.8" text-anchor="middle" textLength="11.17" lengthAdjust="spacingAndGlyphs">80</text>
<line x1="954.58" y1="55.1" x2="954.58" y2="59.9" stroke="#1d1a1b" stroke-width="1.35"/>
<text x="954.58" y="53.75" font-size="10.8" text-anchor="middle" textLength="11.17" lengthAdjust="spacingAndGlyphs">90</text>
<line x1="978.49" y1="55.1" x2="978.49" y2="59.9" stroke="#1d1a1b" stroke-width="1.35"/>
<text x="978.49" y="53.75" font-size="10.8" text-anchor="middle" textLength="16.75" lengthAdjust="spacingAndGlyphs">100</text>
<line x1="1002.4" y1="55.1" x2="1002.4" y2="59.9" stroke="#1d1a1b" stroke-width="1.35"/>
<text x="1002.4" y="53.75" font-size="10.8" text-anchor="middle" textLength="16.75" lengthAdjust="spacingAndGlyphs">110</text>
<line x1="1026.31" y1="55.1" x2="1026.31" y2="59.9" stroke="#1d1a1b" stroke-width="1.35"/>
<text x="1026.31" y="53.75" font-size="10.8" text-anchor="middle" textLength="16.75" lengthAdjust="spacingAndGlyphs">120</text>
<line x1="1050.22" y1="55.1" x2="1050.22" y2="59.9" stroke="#1d1a1b" stroke-width="1.35"/>
<text x="1050.22" y="53.75" font-size="10.8" text-anchor="middle" textLength="16.75" lengthAdjust="spacingAndGlyphs">130</text>
<line x1="1074.12" y1="55.1" x2="1074.12" y2="59.9" stroke="#1d1a1b" stroke-width="1.35"/>
<text x="1074.12" y="53.75" font-size="10.8" text-anchor="middle" textLength="16.75" lengthAdjust="spacingAndGlyphs">140</text>
<line x1="1098.03" y1="55.1" x2="1098.03" y2="59.9" stroke="#1d1a1b" stroke-width="1.35"/>
<text x="1098.03" y="53.75" font-size="10.8" text-anchor="middle" textLength="16.75" lengthAdjust="spacingAndGlyphs">150</text>
<line x1="1121.94" y1="55.1" x2="1121.94" y2="59.9" stroke="#1d1a1b" stroke-width="1.35"/>
<text x="1121.94" y="53.75" font-size="10.8" text-anchor="middle" textLength="16.75" lengthAdjust="spacingAndGlyphs">160</text>
<line x1="1145.85" y1="55.1" x2="1145.85" y2="59.9" stroke="#1d1a1b" stroke-width="1.35"/>
<text x="1145.85" y="53.75" font-size="10.8" text-anchor="middle" textLength="16.75" lengthAdjust="spacingAndGlyphs">170</text>
<text x="747.4" y="52.1" font-size="11">US gpm</text>
<text x="739.4" y="76.6" font-size="10.8" text-anchor="middle" textLength="5.58" lengthAdjust="spacingAndGlyphs">0</text>
<text x="781.51" y="76.6" font-size="10.8" text-anchor="middle" textLength="5.58" lengthAdjust="spacingAndGlyphs">4</text>
<text x="823.61" y="76.6" font-size="10.8" text-anchor="middle" textLength="5.58" lengthAdjust="spacingAndGlyphs">8</text>
<text x="865.72" y="76.6" font-size="10.8" text-anchor="middle" textLength="11.17" lengthAdjust="spacingAndGlyphs">12</text>
<text x="907.83" y="76.6" font-size="10.8" text-anchor="middle" textLength="11.17" lengthAdjust="spacingAndGlyphs">16</text>
<text x="949.93" y="76.6" font-size="10.8" text-anchor="middle" textLength="11.17" lengthAdjust="spacingAndGlyphs">20</text>
<text x="992.04" y="76.6" font-size="10.8" text-anchor="middle" textLength="11.17" lengthAdjust="spacingAndGlyphs">24</text>
<text x="1034.15" y="76.6" font-size="10.8" text-anchor="middle" textLength="11.17" lengthAdjust="spacingAndGlyphs">28</text>
<text x="1076.26" y="76.6" font-size="10.8" text-anchor="middle" textLength="11.17" lengthAdjust="spacingAndGlyphs">32</text>
<text x="1118.36" y="76.6" font-size="10.8" text-anchor="middle" textLength="11.17" lengthAdjust="spacingAndGlyphs">36</text>
<text x="1160.47" y="76.6" font-size="10.8" text-anchor="middle" textLength="11.17" lengthAdjust="spacingAndGlyphs">40</text>
<text x="747.4" y="76.6" font-size="11" letter-spacing="0.6">m<tspan font-size="6" dy="-4">3</tspan><tspan dy="4">/h</tspan></text>
<line x1="749.93" y1="80.77" x2="749.93" y2="422.87" stroke="#e3e3e3" stroke-width="1"/>
<line x1="760.45" y1="80.77" x2="760.45" y2="422.87" stroke="#e3e3e3" stroke-width="1"/>
<line x1="770.98" y1="80.77" x2="770.98" y2="422.87" stroke="#e3e3e3" stroke-width="1"/>
<line x1="792.03" y1="80.77" x2="792.03" y2="422.87" stroke="#e3e3e3" stroke-width="1"/>
<line x1="802.56" y1="80.77" x2="802.56" y2="422.87" stroke="#e3e3e3" stroke-width="1"/>
<line x1="813.09" y1="80.77" x2="813.09" y2="422.87" stroke="#e3e3e3" stroke-width="1"/>
<line x1="834.14" y1="80.77" x2="834.14" y2="422.87" stroke="#e3e3e3" stroke-width="1"/>
<line x1="844.67" y1="80.77" x2="844.67" y2="422.87" stroke="#e3e3e3" stroke-width="1"/>
<line x1="855.19" y1="80.77" x2="855.19" y2="422.87" stroke="#e3e3e3" stroke-width="1"/>
<line x1="876.25" y1="80.77" x2="876.25" y2="422.87" stroke="#e3e3e3" stroke-width="1"/>
<line x1="886.77" y1="80.77" x2="886.77" y2="422.87" stroke="#e3e3e3" stroke-width="1"/>
<line x1="897.3" y1="80.77" x2="897.3" y2="422.87" stroke="#e3e3e3" stroke-width="1"/>
<line x1="918.35" y1="80.77" x2="918.35" y2="422.87" stroke="#e3e3e3" stroke-width="1"/>
<line x1="928.88" y1="80.77" x2="928.88" y2="422.87" stroke="#e3e3e3" stroke-width="1"/>
<line x1="939.41" y1="80.77" x2="939.41" y2="422.87" stroke="#e3e3e3" stroke-width="1"/>
<line x1="960.46" y1="80.77" x2="960.46" y2="422.87" stroke="#e3e3e3" stroke-width="1"/>
<line x1="970.99" y1="80.77" x2="970.99" y2="422.87" stroke="#e3e3e3" stroke-width="1"/>
<line x1="981.52" y1="80.77" x2="981.52" y2="422.87" stroke="#e3e3e3" stroke-width="1"/>
<line x1="1002.57" y1="80.77" x2="1002.57" y2="422.87" stroke="#e3e3e3" stroke-width="1"/>
<line x1="1013.1" y1="80.77" x2="1013.1" y2="422.87" stroke="#e3e3e3" stroke-width="1"/>
<line x1="1023.62" y1="80.77" x2="1023.62" y2="422.87" stroke="#e3e3e3" stroke-width="1"/>
<line x1="1044.68" y1="80.77" x2="1044.68" y2="422.87" stroke="#e3e3e3" stroke-width="1"/>
<line x1="1055.2" y1="80.77" x2="1055.2" y2="422.87" stroke="#e3e3e3" stroke-width="1"/>
<line x1="1065.73" y1="80.77" x2="1065.73" y2="422.87" stroke="#e3e3e3" stroke-width="1"/>
<line x1="1086.78" y1="80.77" x2="1086.78" y2="422.87" stroke="#e3e3e3" stroke-width="1"/>
<line x1="1097.31" y1="80.77" x2="1097.31" y2="422.87" stroke="#e3e3e3" stroke-width="1"/>
<line x1="1107.84" y1="80.77" x2="1107.84" y2="422.87" stroke="#e3e3e3" stroke-width="1"/>
<line x1="1128.89" y1="80.77" x2="1128.89" y2="422.87" stroke="#e3e3e3" stroke-width="1"/>
<line x1="1139.42" y1="80.77" x2="1139.42" y2="422.87" stroke="#e3e3e3" stroke-width="1"/>
<line x1="1149.94" y1="80.77" x2="1149.94" y2="422.87" stroke="#e3e3e3" stroke-width="1"/>
<line x1="739.4" y1="416.03" x2="1160.47" y2="416.03" stroke="#d8d8d8" stroke-width="1"/>
<line x1="739.4" y1="409.19" x2="1160.47" y2="409.19" stroke="#d8d8d8" stroke-width="1"/>
<line x1="739.4" y1="402.34" x2="1160.47" y2="402.34" stroke="#d8d8d8" stroke-width="1"/>
<line x1="739.4" y1="395.5" x2="1160.47" y2="395.5" stroke="#d8d8d8" stroke-width="1"/>
<line x1="739.4" y1="381.82" x2="1160.47" y2="381.82" stroke="#d8d8d8" stroke-width="1"/>
<line x1="739.4" y1="374.98" x2="1160.47" y2="374.98" stroke="#d8d8d8" stroke-width="1"/>
<line x1="739.4" y1="368.13" x2="1160.47" y2="368.13" stroke="#d8d8d8" stroke-width="1"/>
<line x1="739.4" y1="361.29" x2="1160.47" y2="361.29" stroke="#d8d8d8" stroke-width="1"/>
<line x1="739.4" y1="347.61" x2="1160.47" y2="347.61" stroke="#d8d8d8" stroke-width="1"/>
<line x1="739.4" y1="340.77" x2="1160.47" y2="340.77" stroke="#d8d8d8" stroke-width="1"/>
<line x1="739.4" y1="333.92" x2="1160.47" y2="333.92" stroke="#d8d8d8" stroke-width="1"/>
<line x1="739.4" y1="327.08" x2="1160.47" y2="327.08" stroke="#d8d8d8" stroke-width="1"/>
<line x1="739.4" y1="313.4" x2="1160.47" y2="313.4" stroke="#d8d8d8" stroke-width="1"/>
<line x1="739.4" y1="306.56" x2="1160.47" y2="306.56" stroke="#d8d8d8" stroke-width="1"/>
<line x1="739.4" y1="299.71" x2="1160.47" y2="299.71" stroke="#d8d8d8" stroke-width="1"/>
<line x1="739.4" y1="292.87" x2="1160.47" y2="292.87" stroke="#d8d8d8" stroke-width="1"/>
<line x1="739.4" y1="279.19" x2="1160.47" y2="279.19" stroke="#d8d8d8" stroke-width="1"/>
<line x1="739.4" y1="272.35" x2="1160.47" y2="272.35" stroke="#d8d8d8" stroke-width="1"/>
<line x1="739.4" y1="265.5" x2="1160.47" y2="265.5" stroke="#d8d8d8" stroke-width="1"/>
<line x1="739.4" y1="258.66" x2="1160.47" y2="258.66" stroke="#d8d8d8" stroke-width="1"/>
<line x1="739.4" y1="244.98" x2="1160.47" y2="244.98" stroke="#d8d8d8" stroke-width="1"/>
<line x1="739.4" y1="238.14" x2="1160.47" y2="238.14" stroke="#d8d8d8" stroke-width="1"/>
<line x1="739.4" y1="231.29" x2="1160.47" y2="231.29" stroke="#d8d8d8" stroke-width="1"/>
<line x1="739.4" y1="224.45" x2="1160.47" y2="224.45" stroke="#d8d8d8" stroke-width="1"/>
<line x1="739.4" y1="210.77" x2="1160.47" y2="210.77" stroke="#d8d8d8" stroke-width="1"/>
<line x1="739.4" y1="203.93" x2="1160.47" y2="203.93" stroke="#d8d8d8" stroke-width="1"/>
<line x1="739.4" y1="197.08" x2="1160.47" y2="197.08" stroke="#d8d8d8" stroke-width="1"/>
<line x1="739.4" y1="190.24" x2="1160.47" y2="190.24" stroke="#d8d8d8" stroke-width="1"/>
<line x1="739.4" y1="176.56" x2="1160.47" y2="176.56" stroke="#d8d8d8" stroke-width="1"/>
<line x1="739.4" y1="169.72" x2="1160.47" y2="169.72" stroke="#d8d8d8" stroke-width="1"/>
<line x1="739.4" y1="162.87" x2="1160.47" y2="162.87" stroke="#d8d8d8" stroke-width="1"/>
<line x1="739.4" y1="156.03" x2="1160.47" y2="156.03" stroke="#d8d8d8" stroke-width="1"/>
<line x1="739.4" y1="142.35" x2="1160.47" y2="142.35" stroke="#d8d8d8" stroke-width="1"/>
<line x1="739.4" y1="135.51" x2="1160.47" y2="135.51" stroke="#d8d8d8" stroke-width="1"/>
<line x1="739.4" y1="128.66" x2="1160.47" y2="128.66" stroke="#d8d8d8" stroke-width="1"/>
<line x1="739.4" y1="121.82" x2="1160.47" y2="121.82" stroke="#d8d8d8" stroke-width="1"/>
<line x1="739.4" y1="108.14" x2="1160.47" y2="108.14" stroke="#d8d8d8" stroke-width="1"/>
<line x1="739.4" y1="101.3" x2="1160.47" y2="101.3" stroke="#d8d8d8" stroke-width="1"/>
<line x1="739.4" y1="94.45" x2="1160.47" y2="94.45" stroke="#d8d8d8" stroke-width="1"/>
<line x1="739.4" y1="87.61" x2="1160.47" y2="87.61" stroke="#d8d8d8" stroke-width="1"/>
<line x1="739.4" y1="80.17" x2="739.4" y2="424.87" stroke="#1d1a1b" stroke-width="1.6"/>
<line x1="781.51" y1="80.17" x2="781.51" y2="424.87" stroke="#1d1a1b" stroke-width="1.6"/>
<line x1="823.61" y1="80.17" x2="823.61" y2="424.87" stroke="#1d1a1b" stroke-width="1.6"/>
<line x1="865.72" y1="80.17" x2="865.72" y2="424.87" stroke="#1d1a1b" stroke-width="1.6"/>
<line x1="907.83" y1="80.17" x2="907.83" y2="424.87" stroke="#1d1a1b" stroke-width="1.6"/>
<line x1="949.93" y1="80.17" x2="949.93" y2="424.87" stroke="#1d1a1b" stroke-width="1.6"/>
<line x1="992.04" y1="80.17" x2="992.04" y2="424.87" stroke="#1d1a1b" stroke-width="1.6"/>
<line x1="1034.15" y1="80.17" x2="1034.15" y2="424.87" stroke="#1d1a1b" stroke-width="1.6"/>
<line x1="1076.26" y1="80.17" x2="1076.26" y2="424.87" stroke="#1d1a1b" stroke-width="1.6"/>
<line x1="1118.36" y1="80.17" x2="1118.36" y2="424.87" stroke="#1d1a1b" stroke-width="1.6"/>
<line x1="1160.47" y1="80.17" x2="1160.47" y2="424.87" stroke="#1d1a1b" stroke-width="1.6"/>
<line x1="737.1" y1="422.87" x2="1161.07" y2="422.87" stroke="#1d1a1b" stroke-width="1.6"/>
<line x1="737.1" y1="388.66" x2="1161.07" y2="388.66" stroke="#1d1a1b" stroke-width="1.6"/>
<line x1="737.1" y1="354.45" x2="1161.07" y2="354.45" stroke="#1d1a1b" stroke-width="1.6"/>
<line x1="737.1" y1="320.24" x2="1161.07" y2="320.24" stroke="#1d1a1b" stroke-width="1.6"/>
<line x1="737.1" y1="286.03" x2="1161.07" y2="286.03" stroke="#1d1a1b" stroke-width="1.6"/>
<line x1="737.1" y1="251.82" x2="1161.07" y2="251.82" stroke="#1d1a1b" stroke-width="1.6"/>
<line x1="737.1" y1="217.61" x2="1161.07" y2="217.61" stroke="#1d1a1b" stroke-width="1.6"/>
<line x1="737.1" y1="183.4" x2="1161.07" y2="183.4" stroke="#1d1a1b" stroke-width="1.6"/>
<line x1="737.1" y1="149.19" x2="1161.07" y2="149.19" stroke="#1d1a1b" stroke-width="1.6"/>
<line x1="737.1" y1="114.98" x2="1161.07" y2="114.98" stroke="#1d1a1b" stroke-width="1.6"/>
<line x1="737.1" y1="80.77" x2="1161.07" y2="80.77" stroke="#1d1a1b" stroke-width="1.6"/>
<text x="735" y="150.79" font-size="10.8" text-anchor="end" textLength="16.75" lengthAdjust="spacingAndGlyphs">100</text>
<text x="735" y="219.21" font-size="10.8" text-anchor="end" textLength="11.17" lengthAdjust="spacingAndGlyphs">80</text>
<text x="735" y="287.63" font-size="10.8" text-anchor="end" textLength="11.17" lengthAdjust="spacingAndGlyphs">60</text>
<text x="735" y="356.05" font-size="10.8" text-anchor="end" textLength="11.17" lengthAdjust="spacingAndGlyphs">40</text>
<text x="735" y="424.47" font-size="10.8" text-anchor="end" textLength="11.17" lengthAdjust="spacingAndGlyphs">20</text>
<text x="739.4" y="437.6" font-size="10.8" text-anchor="middle" textLength="5.58" lengthAdjust="spacingAndGlyphs">0</text>
<text x="781.51" y="437.6" font-size="10.8" text-anchor="middle" textLength="5.58" lengthAdjust="spacingAndGlyphs">4</text>
<text x="823.61" y="437.6" font-size="10.8" text-anchor="middle" textLength="5.58" lengthAdjust="spacingAndGlyphs">8</text>
<text x="865.72" y="437.6" font-size="10.8" text-anchor="middle" textLength="11.17" lengthAdjust="spacingAndGlyphs">12</text>
<text x="907.83" y="437.6" font-size="10.8" text-anchor="middle" textLength="11.17" lengthAdjust="spacingAndGlyphs">16</text>
<text x="949.93" y="437.6" font-size="10.8" text-anchor="middle" textLength="11.17" lengthAdjust="spacingAndGlyphs">20</text>
<text x="992.04" y="437.6" font-size="10.8" text-anchor="middle" textLength="11.17" lengthAdjust="spacingAndGlyphs">24</text>
<text x="1034.15" y="437.6" font-size="10.8" text-anchor="middle" textLength="11.17" lengthAdjust="spacingAndGlyphs">28</text>
<text x="1076.26" y="437.6" font-size="10.8" text-anchor="middle" textLength="11.17" lengthAdjust="spacingAndGlyphs">32</text>
<text x="1118.36" y="437.6" font-size="10.8" text-anchor="middle" textLength="11.17" lengthAdjust="spacingAndGlyphs">36</text>
<text x="1160.47" y="437.6" font-size="10.8" text-anchor="middle" textLength="11.17" lengthAdjust="spacingAndGlyphs">40</text>
<text x="1008.8" y="454" font-size="9.9" text-anchor="end">Flow/<tspan font-style="italic">Caudal/Débit</tspan> Q(m<tspan font-size="6" dy="-3.4">3</tspan><tspan dy="3.4">/h)</tspan></text>
<line x1="686.4" y1="80.77" x2="686.4" y2="422.87" stroke="#1d1a1b" stroke-width="1.35"/>
<line x1="683.9" y1="407.87" x2="688.7" y2="407.87" stroke="#1d1a1b" stroke-width="1.45"/>
<text x="681.4" y="409.77" font-size="10.8" text-anchor="end" textLength="11.17" lengthAdjust="spacingAndGlyphs">80</text>
<line x1="683.9" y1="387.02" x2="688.7" y2="387.02" stroke="#1d1a1b" stroke-width="1.45"/>
<line x1="683.9" y1="366.16" x2="688.7" y2="366.16" stroke="#1d1a1b" stroke-width="1.45"/>
<text x="681.4" y="368.06" font-size="10.8" text-anchor="end" textLength="16.75" lengthAdjust="spacingAndGlyphs">120</text>
<line x1="683.9" y1="345.31" x2="688.7" y2="345.31" stroke="#1d1a1b" stroke-width="1.45"/>
<line x1="683.9" y1="324.45" x2="688.7" y2="324.45" stroke="#1d1a1b" stroke-width="1.45"/>
<text x="681.4" y="326.35" font-size="10.8" text-anchor="end" textLength="16.75" lengthAdjust="spacingAndGlyphs">160</text>
<line x1="683.9" y1="303.6" x2="688.7" y2="303.6" stroke="#1d1a1b" stroke-width="1.45"/>
<line x1="683.9" y1="282.75" x2="688.7" y2="282.75" stroke="#1d1a1b" stroke-width="1.45"/>
<text x="681.4" y="284.65" font-size="10.8" text-anchor="end" textLength="16.75" lengthAdjust="spacingAndGlyphs">200</text>
<line x1="683.9" y1="261.89" x2="688.7" y2="261.89" stroke="#1d1a1b" stroke-width="1.45"/>
<line x1="683.9" y1="241.04" x2="688.7" y2="241.04" stroke="#1d1a1b" stroke-width="1.45"/>
<text x="681.4" y="242.94" font-size="10.8" text-anchor="end" textLength="16.75" lengthAdjust="spacingAndGlyphs">240</text>
<line x1="683.9" y1="220.18" x2="688.7" y2="220.18" stroke="#1d1a1b" stroke-width="1.45"/>
<line x1="683.9" y1="199.33" x2="688.7" y2="199.33" stroke="#1d1a1b" stroke-width="1.45"/>
<text x="681.4" y="201.23" font-size="10.8" text-anchor="end" textLength="16.75" lengthAdjust="spacingAndGlyphs">280</text>
<line x1="683.9" y1="178.47" x2="688.7" y2="178.47" stroke="#1d1a1b" stroke-width="1.45"/>
<line x1="683.9" y1="157.62" x2="688.7" y2="157.62" stroke="#1d1a1b" stroke-width="1.45"/>
<text x="681.4" y="159.52" font-size="10.8" text-anchor="end" textLength="16.75" lengthAdjust="spacingAndGlyphs">320</text>
<line x1="683.9" y1="136.76" x2="688.7" y2="136.76" stroke="#1d1a1b" stroke-width="1.45"/>
<line x1="683.9" y1="115.91" x2="688.7" y2="115.91" stroke="#1d1a1b" stroke-width="1.45"/>
<text x="681.4" y="117.81" font-size="10.8" text-anchor="end" textLength="16.75" lengthAdjust="spacingAndGlyphs">360</text>
<text x="659.8" y="256.4" font-size="10.1" text-anchor="middle" transform="rotate(-90 659.8 256.4)">Head/<tspan font-style="italic">Altura/Hauteur</tspan>(ft)</text>
<text x="713.6" y="255" font-size="10.1" text-anchor="middle" transform="rotate(-90 713.6 255)">Head/<tspan font-style="italic">Altura/Hauteur</tspan>(m)</text>
<text x="1182.4" y="267.5" font-size="13.8" text-anchor="middle" transform="rotate(-90 1182.4 267.5)">H-Q</text>
<rect x="1049.2" y="80.77" width="111.6" height="40.7" fill="#fff" stroke="#1d1a1b" stroke-width="1.6"/>
<line x1="1049.2" y1="97.47" x2="1160.8" y2="97.47" stroke="#777" stroke-width="1"/>
<line x1="1049.2" y1="109.47" x2="1160.8" y2="109.47" stroke="#777" stroke-width="1"/>
<text x="1105.3" y="92.77" font-size="9.8" text-anchor="middle" letter-spacing="0.4" style="stroke-width:0.1px">IMPELLER DIA.</text>
<text x="1105.3" y="106.47" font-size="9.4" text-anchor="middle" letter-spacing="0.96" xml:space="preserve" style="stroke-width:0.1px">Max.  214 mm</text>
<text x="1105.3" y="118.57" font-size="9.4" text-anchor="middle" letter-spacing="0.97" xml:space="preserve" style="stroke-width:0.1px">Min.   173 mm</text>
<path d="M739.4 159.25C746.42 160.08 767.47 162.33 781.51 164.24C795.54 166.16 809.58 168.12 823.61 170.74C837.65 173.37 851.69 176.7 865.72 179.98C879.76 183.26 893.79 186.76 907.83 190.41C921.86 194.06 935.9 198.06 949.93 201.87C963.97 205.68 978.01 209.5 992.04 213.27C1006.08 217.03 1020.11 220.82 1034.15 224.45C1048.18 228.08 1062.22 231.52 1076.26 235.06C1090.29 238.59 1111.35 243.89 1118.36 245.66" fill="none" stroke="#1d1a1b" stroke-width="1.9" stroke-linecap="round"/>
<path d="M739.4 182.72C746.42 183.4 767.47 184.85 781.51 186.82C795.54 188.79 809.58 191.61 823.61 194.52C837.65 197.43 851.69 200.85 865.72 204.27C879.76 207.69 893.79 211.57 907.83 215.04C921.86 218.52 935.9 221.69 949.93 225.14C963.97 228.59 978.01 232.21 992.04 235.74C1006.08 239.28 1020.11 242.7 1034.15 246.35C1048.18 250 1062.22 253.76 1076.26 257.64C1090.29 261.51 1111.35 267.61 1118.36 269.61" fill="none" stroke="#1d1a1b" stroke-width="1.9" stroke-linecap="round"/>
<path d="M739.4 220.52C746.42 220.66 767.47 221.06 781.51 221.37C795.54 221.69 809.58 221.77 823.61 222.4C837.65 223.03 851.69 223.97 865.72 225.14C879.76 226.31 893.79 227.56 907.83 229.41C921.86 231.27 935.9 233.86 949.93 236.25C963.97 238.65 978.01 240.99 992.04 243.78C1006.08 246.57 1020.11 249.68 1034.15 253.02C1048.18 256.35 1062.22 259.92 1076.26 263.79C1090.29 267.67 1111.35 274.2 1118.36 276.28" fill="none" stroke="#1d1a1b" stroke-width="1.9" stroke-linecap="round"/>
<path d="M739.4 234.51C746.42 234.54 767.47 234.51 781.51 234.72C795.54 234.92 809.58 235.17 823.61 235.74C837.65 236.31 851.69 237 865.72 238.14C879.76 239.28 893.79 240.87 907.83 242.58C921.86 244.29 935.9 246.12 949.93 248.4C963.97 250.68 978.01 253.47 992.04 256.27C1006.08 259.06 1020.11 262.03 1034.15 265.16C1048.18 268.3 1062.22 271.64 1076.26 275.08C1090.29 278.53 1111.35 284.03 1118.36 285.82" fill="none" stroke="#1d1a1b" stroke-width="1.9" stroke-linecap="round"/>
<path d="M739.4 285.79C746.42 285.77 767.47 285.08 781.51 285.69C795.54 286.3 809.58 287.71 823.61 289.45C837.65 291.19 851.69 293.76 865.72 296.12C879.76 298.49 893.79 300.85 907.83 303.65C921.86 306.44 935.9 309.49 949.93 312.88C963.97 316.28 979.94 320.61 992.04 324C1004.15 327.4 1017.48 331.7 1022.57 333.24" fill="none" stroke="#1d1a1b" stroke-width="1.9" stroke-linecap="round"/>
<text x="747" y="157" font-size="10.4" font-weight="bold" style="stroke-width:0.12px" letter-spacing="0.32">32-250/150</text>
<text x="747" y="181" font-size="10.4" font-weight="bold" style="stroke-width:0.12px" letter-spacing="0.32">32-250/110</text>
<text x="747" y="219" font-size="10.4" font-weight="bold" style="stroke-width:0.12px" letter-spacing="0.32">32-250/75H(92)</text>
<text x="747" y="231.8" font-size="10.4" font-weight="bold" style="stroke-width:0.12px" letter-spacing="0.32">32-250/75</text>
<text x="747" y="282.9" font-size="10.4" font-weight="bold" style="stroke-width:0.12px" letter-spacing="0.32">32-250/55</text>
<text x="1122" y="248.9" font-size="10.3" font-weight="bold" style="stroke-width:0.12px" letter-spacing="0.15">214mm</text>
<text x="1122" y="273.8" font-size="10.3" font-weight="bold" style="stroke-width:0.12px" letter-spacing="0.15">208mm</text>
<text x="1122" y="283.4" font-size="10.3" font-weight="bold" style="stroke-width:0.12px" letter-spacing="0.15">197mm</text>
<text x="1122" y="294.6" font-size="10.3" font-weight="bold" style="stroke-width:0.12px" letter-spacing="0.15">191mm</text>
<text x="1028" y="340.3" font-size="10.3" font-weight="bold" style="stroke-width:0.12px" letter-spacing="0.15">173mm</text>
<path d="M859.2 179C858.57 182.17 856.5 191.67 855.4 198C854.3 204.33 853.27 209.17 852.6 217C851.93 224.83 851.62 235.33 851.4 245C851.18 254.67 851.2 267.13 851.3 275C851.4 282.87 851.88 289.33 852 292.2" fill="none" stroke="#1d1a1b" stroke-width="1.1" stroke-linecap="round"/>
<path d="M892.5 186C892.05 188.67 890.52 196.83 889.8 202C889.08 207.17 888.73 209.83 888.2 217C887.67 224.17 886.93 235.33 886.6 245C886.27 254.67 886.23 266.17 886.2 275C886.17 283.83 886.37 294.17 886.4 298" fill="none" stroke="#1d1a1b" stroke-width="1.1" stroke-linecap="round"/>
<path d="M924.6 194.8C924.13 196.67 922.53 202.3 921.8 206C921.07 209.7 920.8 210.5 920.2 217C919.6 223.5 918.68 235.33 918.2 245C917.72 254.67 917.33 265 917.3 275C917.27 285 917.88 300 918 305" fill="none" stroke="#1d1a1b" stroke-width="1.1" stroke-linecap="round"/>
<path d="M949.6 200C949.23 202.83 948.3 210.33 947.4 217C946.5 223.67 945.07 232.42 944.2 240C943.33 247.58 942.47 255.83 942.2 262.5C941.93 269.17 942.13 274.08 942.6 280C943.07 285.92 943.77 292.73 945 298C946.23 303.27 948.17 308.83 950 311.6C951.83 314.37 953.92 314.13 956 314.6C958.08 315.07 960 315.17 962.5 314.4C965 313.63 967.75 312.3 971 310C974.25 307.7 978.33 304.17 982 300.6C985.67 297.03 989.17 293.27 993 288.6C996.83 283.93 999.67 279.27 1005 272.6C1010.33 265.93 1018.4 256.53 1025 248.6C1031.6 240.67 1041.33 228.93 1044.6 225" fill="none" stroke="#1d1a1b" stroke-width="1.1" stroke-linecap="round"/>
<path d="M996.4 325.2C998.17 324.1 1003.4 321.17 1007 318.6C1010.6 316.03 1014.33 312.97 1018 309.8C1021.67 306.63 1025.33 303.13 1029 299.6C1032.67 296.07 1036.5 292.4 1040 288.6C1043.5 284.8 1046.67 280.93 1050 276.8C1053.33 272.67 1056.67 268.33 1060 263.8C1063.33 259.27 1066.87 254.27 1070 249.6C1073.13 244.93 1077.33 238.1 1078.8 235.8" fill="none" stroke="#1d1a1b" stroke-width="1.1" stroke-linecap="round"/>
<path d="M1021.4 331.6C1023.83 330.1 1031.23 325.6 1036 322.6C1040.77 319.6 1045.5 316.67 1050 313.6C1054.5 310.53 1058.83 307.4 1063 304.2C1067.17 301 1071 298 1075 294.4C1079 290.8 1083.17 286.73 1087 282.6C1090.83 278.47 1094.73 273.83 1098 269.6C1101.27 265.37 1103.97 261.3 1106.6 257.2C1109.23 253.1 1112.6 247.03 1113.8 245" fill="none" stroke="#1d1a1b" stroke-width="1.1" stroke-linecap="round"/>
<text x="854.4" y="176" font-size="10.2" textLength="10.55" lengthAdjust="spacingAndGlyphs">40</text>
<text x="889" y="183.6" font-size="10.2" textLength="10.55" lengthAdjust="spacingAndGlyphs">45</text>
<text x="919.8" y="191.4" font-size="10.2" textLength="10.55" lengthAdjust="spacingAndGlyphs">48</text>
<text x="947.4" y="197.4" font-size="10.2" textLength="10.55" lengthAdjust="spacingAndGlyphs">51</text>
<text x="1042.8" y="221" font-size="10.2" textLength="10.55" lengthAdjust="spacingAndGlyphs">51</text>
<text x="1078.6" y="231.6" font-size="10.2" textLength="10.55" lengthAdjust="spacingAndGlyphs">48</text>
<text x="1091" y="260.4" font-size="10.2" textLength="10.55" lengthAdjust="spacingAndGlyphs">45</text>
<line x1="749.93" y1="469.33" x2="749.93" y2="563.9" stroke="#e3e3e3" stroke-width="1"/>
<line x1="760.45" y1="469.33" x2="760.45" y2="563.9" stroke="#e3e3e3" stroke-width="1"/>
<line x1="770.98" y1="469.33" x2="770.98" y2="563.9" stroke="#e3e3e3" stroke-width="1"/>
<line x1="792.03" y1="469.33" x2="792.03" y2="563.9" stroke="#e3e3e3" stroke-width="1"/>
<line x1="802.56" y1="469.33" x2="802.56" y2="563.9" stroke="#e3e3e3" stroke-width="1"/>
<line x1="813.09" y1="469.33" x2="813.09" y2="563.9" stroke="#e3e3e3" stroke-width="1"/>
<line x1="834.14" y1="469.33" x2="834.14" y2="563.9" stroke="#e3e3e3" stroke-width="1"/>
<line x1="844.67" y1="469.33" x2="844.67" y2="563.9" stroke="#e3e3e3" stroke-width="1"/>
<line x1="855.19" y1="469.33" x2="855.19" y2="563.9" stroke="#e3e3e3" stroke-width="1"/>
<line x1="876.25" y1="469.33" x2="876.25" y2="563.9" stroke="#e3e3e3" stroke-width="1"/>
<line x1="886.77" y1="469.33" x2="886.77" y2="563.9" stroke="#e3e3e3" stroke-width="1"/>
<line x1="897.3" y1="469.33" x2="897.3" y2="563.9" stroke="#e3e3e3" stroke-width="1"/>
<line x1="918.35" y1="469.33" x2="918.35" y2="563.9" stroke="#e3e3e3" stroke-width="1"/>
<line x1="928.88" y1="469.33" x2="928.88" y2="563.9" stroke="#e3e3e3" stroke-width="1"/>
<line x1="939.41" y1="469.33" x2="939.41" y2="563.9" stroke="#e3e3e3" stroke-width="1"/>
<line x1="960.46" y1="469.33" x2="960.46" y2="563.9" stroke="#e3e3e3" stroke-width="1"/>
<line x1="970.99" y1="469.33" x2="970.99" y2="563.9" stroke="#e3e3e3" stroke-width="1"/>
<line x1="981.52" y1="469.33" x2="981.52" y2="563.9" stroke="#e3e3e3" stroke-width="1"/>
<line x1="1002.57" y1="469.33" x2="1002.57" y2="563.9" stroke="#e3e3e3" stroke-width="1"/>
<line x1="1013.1" y1="469.33" x2="1013.1" y2="563.9" stroke="#e3e3e3" stroke-width="1"/>
<line x1="1023.62" y1="469.33" x2="1023.62" y2="563.9" stroke="#e3e3e3" stroke-width="1"/>
<line x1="1044.68" y1="469.33" x2="1044.68" y2="563.9" stroke="#e3e3e3" stroke-width="1"/>
<line x1="1055.2" y1="469.33" x2="1055.2" y2="563.9" stroke="#e3e3e3" stroke-width="1"/>
<line x1="1065.73" y1="469.33" x2="1065.73" y2="563.9" stroke="#e3e3e3" stroke-width="1"/>
<line x1="1086.78" y1="469.33" x2="1086.78" y2="563.9" stroke="#e3e3e3" stroke-width="1"/>
<line x1="1097.31" y1="469.33" x2="1097.31" y2="563.9" stroke="#e3e3e3" stroke-width="1"/>
<line x1="1107.84" y1="469.33" x2="1107.84" y2="563.9" stroke="#e3e3e3" stroke-width="1"/>
<line x1="1128.89" y1="469.33" x2="1128.89" y2="563.9" stroke="#e3e3e3" stroke-width="1"/>
<line x1="1139.42" y1="469.33" x2="1139.42" y2="563.9" stroke="#e3e3e3" stroke-width="1"/>
<line x1="1149.94" y1="469.33" x2="1149.94" y2="563.9" stroke="#e3e3e3" stroke-width="1"/>
<line x1="739.4" y1="559.17" x2="1160.47" y2="559.17" stroke="#d8d8d8" stroke-width="1"/>
<line x1="739.4" y1="554.44" x2="1160.47" y2="554.44" stroke="#d8d8d8" stroke-width="1"/>
<line x1="739.4" y1="549.71" x2="1160.47" y2="549.71" stroke="#d8d8d8" stroke-width="1"/>
<line x1="739.4" y1="544.99" x2="1160.47" y2="544.99" stroke="#d8d8d8" stroke-width="1"/>
<line x1="739.4" y1="535.53" x2="1160.47" y2="535.53" stroke="#d8d8d8" stroke-width="1"/>
<line x1="739.4" y1="530.8" x2="1160.47" y2="530.8" stroke="#d8d8d8" stroke-width="1"/>
<line x1="739.4" y1="526.07" x2="1160.47" y2="526.07" stroke="#d8d8d8" stroke-width="1"/>
<line x1="739.4" y1="521.34" x2="1160.47" y2="521.34" stroke="#d8d8d8" stroke-width="1"/>
<line x1="739.4" y1="511.89" x2="1160.47" y2="511.89" stroke="#d8d8d8" stroke-width="1"/>
<line x1="739.4" y1="507.16" x2="1160.47" y2="507.16" stroke="#d8d8d8" stroke-width="1"/>
<line x1="739.4" y1="502.43" x2="1160.47" y2="502.43" stroke="#d8d8d8" stroke-width="1"/>
<line x1="739.4" y1="497.7" x2="1160.47" y2="497.7" stroke="#d8d8d8" stroke-width="1"/>
<line x1="739.4" y1="488.24" x2="1160.47" y2="488.24" stroke="#d8d8d8" stroke-width="1"/>
<line x1="739.4" y1="483.52" x2="1160.47" y2="483.52" stroke="#d8d8d8" stroke-width="1"/>
<line x1="739.4" y1="478.79" x2="1160.47" y2="478.79" stroke="#d8d8d8" stroke-width="1"/>
<line x1="739.4" y1="474.06" x2="1160.47" y2="474.06" stroke="#d8d8d8" stroke-width="1"/>
<line x1="739.4" y1="468.73" x2="739.4" y2="564.6" stroke="#1d1a1b" stroke-width="1.6"/>
<line x1="781.51" y1="468.73" x2="781.51" y2="564.6" stroke="#1d1a1b" stroke-width="1.6"/>
<line x1="823.61" y1="468.73" x2="823.61" y2="564.6" stroke="#1d1a1b" stroke-width="1.6"/>
<line x1="865.72" y1="468.73" x2="865.72" y2="564.6" stroke="#1d1a1b" stroke-width="1.6"/>
<line x1="907.83" y1="468.73" x2="907.83" y2="564.6" stroke="#1d1a1b" stroke-width="1.6"/>
<line x1="949.93" y1="468.73" x2="949.93" y2="564.6" stroke="#1d1a1b" stroke-width="1.6"/>
<line x1="992.04" y1="468.73" x2="992.04" y2="564.6" stroke="#1d1a1b" stroke-width="1.6"/>
<line x1="1034.15" y1="468.73" x2="1034.15" y2="564.6" stroke="#1d1a1b" stroke-width="1.6"/>
<line x1="1076.26" y1="468.73" x2="1076.26" y2="564.6" stroke="#1d1a1b" stroke-width="1.6"/>
<line x1="1118.36" y1="468.73" x2="1118.36" y2="564.6" stroke="#1d1a1b" stroke-width="1.6"/>
<line x1="1160.47" y1="468.73" x2="1160.47" y2="564.6" stroke="#1d1a1b" stroke-width="1.6"/>
<line x1="737.1" y1="563.9" x2="1161.07" y2="563.9" stroke="#1d1a1b" stroke-width="1.6"/>
<line x1="737.1" y1="540.26" x2="1161.07" y2="540.26" stroke="#1d1a1b" stroke-width="1.6"/>
<line x1="737.1" y1="516.62" x2="1161.07" y2="516.62" stroke="#1d1a1b" stroke-width="1.6"/>
<line x1="737.1" y1="492.97" x2="1161.07" y2="492.97" stroke="#1d1a1b" stroke-width="1.6"/>
<line x1="737.1" y1="469.33" x2="1161.07" y2="469.33" stroke="#1d1a1b" stroke-width="1.6"/>
<text x="735" y="470.48" font-size="10.8" text-anchor="end" textLength="11.17" lengthAdjust="spacingAndGlyphs">20</text>
<text x="735" y="494.12" font-size="10.8" text-anchor="end" textLength="11.17" lengthAdjust="spacingAndGlyphs">15</text>
<text x="735" y="517.76" font-size="10.8" text-anchor="end" textLength="11.17" lengthAdjust="spacingAndGlyphs">10</text>
<text x="735" y="541.41" font-size="10.8" text-anchor="end" textLength="5.58" lengthAdjust="spacingAndGlyphs">5</text>
<text x="735" y="565.05" font-size="10.8" text-anchor="end" textLength="5.58" lengthAdjust="spacingAndGlyphs">0</text>
<line x1="686.4" y1="469.93" x2="686.4" y2="563.9" stroke="#1d1a1b" stroke-width="1.35"/>
<line x1="683.9" y1="563.9" x2="688.7" y2="563.9" stroke="#1d1a1b" stroke-width="1.45"/>
<text x="681.4" y="565.8" font-size="10.8" text-anchor="end" textLength="5.58" lengthAdjust="spacingAndGlyphs">0</text>
<line x1="683.9" y1="546.08" x2="688.7" y2="546.08" stroke="#1d1a1b" stroke-width="1.45"/>
<text x="681.4" y="547.98" font-size="10.8" text-anchor="end" textLength="5.58" lengthAdjust="spacingAndGlyphs">5</text>
<line x1="683.9" y1="528.26" x2="688.7" y2="528.26" stroke="#1d1a1b" stroke-width="1.45"/>
<text x="681.4" y="530.16" font-size="10.8" text-anchor="end" textLength="11.17" lengthAdjust="spacingAndGlyphs">10</text>
<line x1="683.9" y1="510.44" x2="688.7" y2="510.44" stroke="#1d1a1b" stroke-width="1.45"/>
<text x="681.4" y="512.34" font-size="10.8" text-anchor="end" textLength="11.17" lengthAdjust="spacingAndGlyphs">15</text>
<line x1="683.9" y1="492.62" x2="688.7" y2="492.62" stroke="#1d1a1b" stroke-width="1.45"/>
<text x="681.4" y="494.52" font-size="10.8" text-anchor="end" textLength="11.17" lengthAdjust="spacingAndGlyphs">20</text>
<line x1="683.9" y1="474.8" x2="688.7" y2="474.8" stroke="#1d1a1b" stroke-width="1.45"/>
<text x="681.4" y="476.7" font-size="10.8" text-anchor="end" textLength="11.17" lengthAdjust="spacingAndGlyphs">25</text>
<text x="661.3" y="517" font-size="12.4" text-anchor="middle" transform="rotate(-90 661.3 517)">hp</text>
<text x="716" y="517" font-size="12.3" text-anchor="middle" transform="rotate(-90 716 517)">kW</text>
<text x="1182.4" y="516.5" font-size="13.8" text-anchor="middle" transform="rotate(-90 1182.4 516.5)">P-Q</text>
<path d="M823.61 537.39C825.75 537.04 832.16 535.99 836.43 535.28C840.7 534.58 844.97 533.87 849.24 533.16C853.52 532.45 857.79 531.74 862.06 531.03C866.33 530.32 870.6 529.61 874.87 528.91C879.15 528.2 883.42 527.49 887.69 526.79C891.96 526.08 896.23 525.38 900.51 524.68C904.78 523.98 909.05 523.29 913.32 522.6C917.59 521.91 921.86 521.22 926.14 520.54C930.41 519.86 934.68 519.19 938.95 518.52C943.22 517.86 947.49 517.2 951.77 516.54C956.04 515.89 960.31 515.25 964.58 514.62C968.85 513.98 973.12 513.36 977.4 512.75C981.67 512.13 985.94 511.53 990.21 510.94C994.48 510.35 998.75 509.77 1003.03 509.2C1007.3 508.64 1011.57 508.09 1015.84 507.55C1020.11 507.01 1024.39 506.48 1028.66 505.98C1032.93 505.47 1037.2 504.97 1041.47 504.5C1045.74 504.02 1050.02 503.56 1054.29 503.11C1058.56 502.67 1062.83 502.25 1067.1 501.84C1071.37 501.43 1075.65 501.05 1079.92 500.68C1084.19 500.31 1088.46 499.96 1092.73 499.64C1097 499.31 1101.28 499.01 1105.55 498.73C1109.82 498.44 1116.23 498.08 1118.36 497.95" fill="none" stroke="#1d1a1b" stroke-width="1.7" stroke-linecap="round"/>
<path d="M823.61 545.28C825.75 544.99 832.16 544.15 836.43 543.59C840.7 543.03 844.97 542.46 849.24 541.9C853.52 541.34 857.79 540.78 862.06 540.22C866.33 539.66 870.6 539.11 874.87 538.55C879.15 537.99 883.42 537.44 887.69 536.89C891.96 536.34 896.23 535.79 900.51 535.24C904.78 534.7 909.05 534.15 913.32 533.61C917.59 533.07 921.86 532.54 926.14 532.01C930.41 531.47 934.68 530.95 938.95 530.42C943.22 529.9 947.49 529.38 951.77 528.87C956.04 528.35 960.31 527.84 964.58 527.34C968.85 526.84 973.12 526.34 977.4 525.85C981.67 525.36 985.94 524.88 990.21 524.4C994.48 523.92 998.75 523.45 1003.03 522.99C1007.3 522.52 1011.57 522.07 1015.84 521.62C1020.11 521.17 1024.39 520.73 1028.66 520.3C1032.93 519.87 1037.2 519.44 1041.47 519.03C1045.74 518.61 1050.02 518.21 1054.29 517.81C1058.56 517.42 1062.83 517.03 1067.1 516.65C1071.37 516.28 1075.65 515.91 1079.92 515.55C1084.19 515.2 1088.46 514.85 1092.73 514.52C1097 514.19 1101.28 513.86 1105.55 513.55C1109.82 513.24 1116.23 512.8 1118.36 512.65" fill="none" stroke="#1d1a1b" stroke-width="1.7" stroke-linecap="round"/>
<path d="M823.61 547.98C825.75 547.73 832.16 546.98 836.43 546.48C840.7 545.98 844.97 545.47 849.24 544.97C853.52 544.47 857.79 543.96 862.06 543.46C866.33 542.96 870.6 542.45 874.87 541.95C879.15 541.45 883.42 540.95 887.69 540.45C891.96 539.95 896.23 539.45 900.51 538.96C904.78 538.46 909.05 537.97 913.32 537.48C917.59 536.99 921.86 536.5 926.14 536.02C930.41 535.54 934.68 535.07 938.95 534.59C943.22 534.12 947.49 533.66 951.77 533.2C956.04 532.74 960.31 532.28 964.58 531.83C968.85 531.39 973.12 530.95 977.4 530.51C981.67 530.08 985.94 529.65 990.21 529.24C994.48 528.82 998.75 528.41 1003.03 528.01C1007.3 527.62 1011.57 527.23 1015.84 526.85C1020.11 526.47 1024.39 526.1 1028.66 525.74C1032.93 525.38 1037.2 525.03 1041.47 524.7C1045.74 524.36 1050.02 524.04 1054.29 523.73C1058.56 523.42 1062.83 523.12 1067.1 522.83C1071.37 522.55 1075.65 522.28 1079.92 522.02C1084.19 521.77 1088.46 521.52 1092.73 521.29C1097 521.07 1101.28 520.85 1105.55 520.66C1109.82 520.46 1116.23 520.21 1118.36 520.12" fill="none" stroke="#1d1a1b" stroke-width="1.7" stroke-linecap="round"/>
<path d="M823.61 550.46C825.75 550.21 832.16 549.48 836.43 548.99C840.7 548.51 844.97 548.03 849.24 547.56C853.52 547.08 857.79 546.61 862.06 546.15C866.33 545.68 870.6 545.22 874.87 544.77C879.15 544.31 883.42 543.86 887.69 543.42C891.96 542.98 896.23 542.54 900.51 542.1C904.78 541.67 909.05 541.25 913.32 540.83C917.59 540.41 921.86 539.99 926.14 539.59C930.41 539.18 934.68 538.78 938.95 538.39C943.22 537.99 947.49 537.61 951.77 537.23C956.04 536.85 960.31 536.48 964.58 536.12C968.85 535.75 973.12 535.4 977.4 535.05C981.67 534.71 985.94 534.37 990.21 534.04C994.48 533.71 998.75 533.39 1003.03 533.07C1007.3 532.76 1011.57 532.46 1015.84 532.16C1020.11 531.87 1024.39 531.58 1028.66 531.31C1032.93 531.03 1037.2 530.77 1041.47 530.51C1045.74 530.26 1050.02 530.01 1054.29 529.78C1058.56 529.54 1062.83 529.32 1067.1 529.11C1071.37 528.89 1075.65 528.69 1079.92 528.5C1084.19 528.31 1088.46 528.13 1092.73 527.96C1097 527.79 1101.28 527.63 1105.55 527.49C1109.82 527.34 1116.23 527.16 1118.36 527.09" fill="none" stroke="#1d1a1b" stroke-width="1.7" stroke-linecap="round"/>
<path d="M823.61 553.01C825.06 552.89 829.4 552.51 832.29 552.25C835.18 552 838.07 551.74 840.96 551.49C843.85 551.23 846.74 550.97 849.63 550.71C852.52 550.45 855.42 550.19 858.31 549.93C861.2 549.67 864.09 549.41 866.98 549.15C869.87 548.89 872.76 548.63 875.65 548.37C878.54 548.11 881.43 547.85 884.33 547.6C887.22 547.34 890.11 547.08 893 546.83C895.89 546.57 898.78 546.32 901.67 546.07C904.56 545.82 907.45 545.57 910.35 545.32C913.24 545.07 916.13 544.83 919.02 544.58C921.91 544.34 924.8 544.1 927.69 543.87C930.58 543.63 933.47 543.4 936.36 543.17C939.26 542.95 942.15 542.72 945.04 542.5C947.93 542.28 950.82 542.07 953.71 541.85C956.6 541.64 959.49 541.44 962.38 541.24C965.28 541.04 968.17 540.84 971.06 540.65C973.95 540.46 976.84 540.28 979.73 540.1C982.62 539.92 985.51 539.75 988.4 539.58C991.29 539.42 994.19 539.26 997.08 539.11C999.97 538.96 1002.86 538.81 1005.75 538.67C1008.64 538.54 1011.53 538.41 1014.42 538.29C1017.31 538.16 1021.65 538 1023.1 537.95" fill="none" stroke="#1d1a1b" stroke-width="1.7" stroke-linecap="round"/>
<text x="1122" y="502.5" font-size="10.3" font-weight="bold" style="stroke-width:0.12px" letter-spacing="0.15">214mm</text>
<text x="1122" y="515" font-size="10.3" font-weight="bold" style="stroke-width:0.12px" letter-spacing="0.15">208mm</text>
<text x="1122" y="524.5" font-size="10.3" font-weight="bold" style="stroke-width:0.12px" letter-spacing="0.15">197mm</text>
<text x="1122" y="533.7" font-size="10.3" font-weight="bold" style="stroke-width:0.12px" letter-spacing="0.15">191mm</text>
<text x="1028" y="540.6" font-size="10.3" font-weight="bold" style="stroke-width:0.12px" letter-spacing="0.15">173mm</text>
<line x1="749.93" y1="584.9" x2="749.93" y2="656.6" stroke="#e3e3e3" stroke-width="1"/>
<line x1="760.45" y1="584.9" x2="760.45" y2="656.6" stroke="#e3e3e3" stroke-width="1"/>
<line x1="770.98" y1="584.9" x2="770.98" y2="656.6" stroke="#e3e3e3" stroke-width="1"/>
<line x1="792.03" y1="584.9" x2="792.03" y2="656.6" stroke="#e3e3e3" stroke-width="1"/>
<line x1="802.56" y1="584.9" x2="802.56" y2="656.6" stroke="#e3e3e3" stroke-width="1"/>
<line x1="813.09" y1="584.9" x2="813.09" y2="656.6" stroke="#e3e3e3" stroke-width="1"/>
<line x1="834.14" y1="584.9" x2="834.14" y2="656.6" stroke="#e3e3e3" stroke-width="1"/>
<line x1="844.67" y1="584.9" x2="844.67" y2="656.6" stroke="#e3e3e3" stroke-width="1"/>
<line x1="855.19" y1="584.9" x2="855.19" y2="656.6" stroke="#e3e3e3" stroke-width="1"/>
<line x1="876.25" y1="584.9" x2="876.25" y2="656.6" stroke="#e3e3e3" stroke-width="1"/>
<line x1="886.77" y1="584.9" x2="886.77" y2="656.6" stroke="#e3e3e3" stroke-width="1"/>
<line x1="897.3" y1="584.9" x2="897.3" y2="656.6" stroke="#e3e3e3" stroke-width="1"/>
<line x1="918.35" y1="584.9" x2="918.35" y2="656.6" stroke="#e3e3e3" stroke-width="1"/>
<line x1="928.88" y1="584.9" x2="928.88" y2="656.6" stroke="#e3e3e3" stroke-width="1"/>
<line x1="939.41" y1="584.9" x2="939.41" y2="656.6" stroke="#e3e3e3" stroke-width="1"/>
<line x1="960.46" y1="584.9" x2="960.46" y2="656.6" stroke="#e3e3e3" stroke-width="1"/>
<line x1="970.99" y1="584.9" x2="970.99" y2="656.6" stroke="#e3e3e3" stroke-width="1"/>
<line x1="981.52" y1="584.9" x2="981.52" y2="656.6" stroke="#e3e3e3" stroke-width="1"/>
<line x1="1002.57" y1="584.9" x2="1002.57" y2="656.6" stroke="#e3e3e3" stroke-width="1"/>
<line x1="1013.1" y1="584.9" x2="1013.1" y2="656.6" stroke="#e3e3e3" stroke-width="1"/>
<line x1="1023.62" y1="584.9" x2="1023.62" y2="656.6" stroke="#e3e3e3" stroke-width="1"/>
<line x1="1044.68" y1="584.9" x2="1044.68" y2="656.6" stroke="#e3e3e3" stroke-width="1"/>
<line x1="1055.2" y1="584.9" x2="1055.2" y2="656.6" stroke="#e3e3e3" stroke-width="1"/>
<line x1="1065.73" y1="584.9" x2="1065.73" y2="656.6" stroke="#e3e3e3" stroke-width="1"/>
<line x1="1086.78" y1="584.9" x2="1086.78" y2="656.6" stroke="#e3e3e3" stroke-width="1"/>
<line x1="1097.31" y1="584.9" x2="1097.31" y2="656.6" stroke="#e3e3e3" stroke-width="1"/>
<line x1="1107.84" y1="584.9" x2="1107.84" y2="656.6" stroke="#e3e3e3" stroke-width="1"/>
<line x1="1128.89" y1="584.9" x2="1128.89" y2="656.6" stroke="#e3e3e3" stroke-width="1"/>
<line x1="1139.42" y1="584.9" x2="1139.42" y2="656.6" stroke="#e3e3e3" stroke-width="1"/>
<line x1="1149.94" y1="584.9" x2="1149.94" y2="656.6" stroke="#e3e3e3" stroke-width="1"/>
<line x1="739.4" y1="644.65" x2="1160.47" y2="644.65" stroke="#d8d8d8" stroke-width="1"/>
<line x1="739.4" y1="632.7" x2="1160.47" y2="632.7" stroke="#d8d8d8" stroke-width="1"/>
<line x1="739.4" y1="608.8" x2="1160.47" y2="608.8" stroke="#d8d8d8" stroke-width="1"/>
<line x1="739.4" y1="596.85" x2="1160.47" y2="596.85" stroke="#d8d8d8" stroke-width="1"/>
<line x1="739.4" y1="584.3" x2="739.4" y2="658.6" stroke="#1d1a1b" stroke-width="1.6"/>
<line x1="781.51" y1="584.3" x2="781.51" y2="658.6" stroke="#1d1a1b" stroke-width="1.6"/>
<line x1="823.61" y1="584.3" x2="823.61" y2="658.6" stroke="#1d1a1b" stroke-width="1.6"/>
<line x1="865.72" y1="584.3" x2="865.72" y2="658.6" stroke="#1d1a1b" stroke-width="1.6"/>
<line x1="907.83" y1="584.3" x2="907.83" y2="658.6" stroke="#1d1a1b" stroke-width="1.6"/>
<line x1="949.93" y1="584.3" x2="949.93" y2="658.6" stroke="#1d1a1b" stroke-width="1.6"/>
<line x1="992.04" y1="584.3" x2="992.04" y2="658.6" stroke="#1d1a1b" stroke-width="1.6"/>
<line x1="1034.15" y1="584.3" x2="1034.15" y2="658.6" stroke="#1d1a1b" stroke-width="1.6"/>
<line x1="1076.26" y1="584.3" x2="1076.26" y2="658.6" stroke="#1d1a1b" stroke-width="1.6"/>
<line x1="1118.36" y1="584.3" x2="1118.36" y2="658.6" stroke="#1d1a1b" stroke-width="1.6"/>
<line x1="1160.47" y1="584.3" x2="1160.47" y2="658.6" stroke="#1d1a1b" stroke-width="1.6"/>
<line x1="737.1" y1="656.6" x2="1161.07" y2="656.6" stroke="#1d1a1b" stroke-width="1.6"/>
<line x1="737.1" y1="620.75" x2="1161.07" y2="620.75" stroke="#1d1a1b" stroke-width="1.6"/>
<line x1="737.1" y1="584.9" x2="1161.07" y2="584.9" stroke="#1d1a1b" stroke-width="1.6"/>
<text x="735" y="586.05" font-size="10.8" text-anchor="end" textLength="5.58" lengthAdjust="spacingAndGlyphs">6</text>
<text x="735" y="621.9" font-size="10.8" text-anchor="end" textLength="5.58" lengthAdjust="spacingAndGlyphs">3</text>
<text x="735" y="657.75" font-size="10.8" text-anchor="end" textLength="5.58" lengthAdjust="spacingAndGlyphs">0</text>
<line x1="686.4" y1="584.9" x2="686.4" y2="656.6" stroke="#1d1a1b" stroke-width="1.35"/>
<line x1="683.9" y1="656.6" x2="688.7" y2="656.6" stroke="#1d1a1b" stroke-width="1.45"/>
<text x="681.4" y="658.5" font-size="10.8" text-anchor="end" textLength="5.58" lengthAdjust="spacingAndGlyphs">0</text>
<line x1="683.9" y1="638.39" x2="688.7" y2="638.39" stroke="#1d1a1b" stroke-width="1.45"/>
<text x="681.4" y="640.29" font-size="10.8" text-anchor="end" textLength="5.58" lengthAdjust="spacingAndGlyphs">5</text>
<line x1="683.9" y1="620.18" x2="688.7" y2="620.18" stroke="#1d1a1b" stroke-width="1.45"/>
<text x="681.4" y="622.08" font-size="10.8" text-anchor="end" textLength="11.17" lengthAdjust="spacingAndGlyphs">10</text>
<line x1="683.9" y1="601.96" x2="688.7" y2="601.96" stroke="#1d1a1b" stroke-width="1.45"/>
<text x="681.4" y="603.86" font-size="10.8" text-anchor="end" textLength="11.17" lengthAdjust="spacingAndGlyphs">15</text>
<text x="662.1" y="620.5" font-size="12.8" text-anchor="middle" transform="rotate(-90 662.1 620.5)">ft</text>
<text x="713.5" y="620.5" font-size="12.4" text-anchor="middle" transform="rotate(-90 713.5 620.5)">m</text>
<text x="1182.4" y="621.5" font-size="12.8" text-anchor="middle" transform="rotate(-90 1182.4 621.5)">NPSHr</text>
<path d="M823.61 630.74C825.75 630.68 832.16 630.52 836.43 630.4C840.7 630.29 844.97 630.17 849.24 630.03C853.52 629.9 857.79 629.76 862.06 629.61C866.33 629.46 870.6 629.31 874.87 629.13C879.15 628.96 883.42 628.78 887.69 628.58C891.96 628.38 896.23 628.17 900.51 627.94C904.78 627.71 909.05 627.46 913.32 627.19C917.59 626.93 921.86 626.64 926.14 626.34C930.41 626.03 934.68 625.71 938.95 625.35C943.22 625 947.49 624.63 951.77 624.23C956.04 623.83 960.31 623.41 964.58 622.95C968.85 622.5 973.12 622.02 977.4 621.51C981.67 621 985.94 620.46 990.21 619.89C994.48 619.32 998.75 618.71 1003.03 618.08C1007.3 617.44 1011.57 616.77 1015.84 616.06C1020.11 615.35 1024.39 614.6 1028.66 613.82C1032.93 613.03 1037.2 612.21 1041.47 611.35C1045.74 610.48 1050.02 609.58 1054.29 608.63C1058.56 607.68 1062.83 606.69 1067.1 605.66C1071.37 604.62 1075.65 603.54 1079.92 602.41C1084.19 601.28 1088.46 600.11 1092.73 598.88C1097 597.66 1101.28 596.39 1105.55 595.06C1109.82 593.73 1116.23 591.61 1118.36 590.92" fill="none" stroke="#1d1a1b" stroke-width="1.7" stroke-linecap="round"/>
<text x="739.4" y="671.6" font-size="10.8" text-anchor="middle" textLength="5.58" lengthAdjust="spacingAndGlyphs">0</text>
<text x="781.51" y="671.6" font-size="10.8" text-anchor="middle" textLength="5.58" lengthAdjust="spacingAndGlyphs">4</text>
<text x="823.61" y="671.6" font-size="10.8" text-anchor="middle" textLength="5.58" lengthAdjust="spacingAndGlyphs">8</text>
<text x="865.72" y="671.6" font-size="10.8" text-anchor="middle" textLength="11.17" lengthAdjust="spacingAndGlyphs">12</text>
<text x="907.83" y="671.6" font-size="10.8" text-anchor="middle" textLength="11.17" lengthAdjust="spacingAndGlyphs">16</text>
<text x="949.93" y="671.6" font-size="10.8" text-anchor="middle" textLength="11.17" lengthAdjust="spacingAndGlyphs">20</text>
<text x="992.04" y="671.6" font-size="10.8" text-anchor="middle" textLength="11.17" lengthAdjust="spacingAndGlyphs">24</text>
<text x="1034.15" y="671.6" font-size="10.8" text-anchor="middle" textLength="11.17" lengthAdjust="spacingAndGlyphs">28</text>
<text x="1076.26" y="671.6" font-size="10.8" text-anchor="middle" textLength="11.17" lengthAdjust="spacingAndGlyphs">32</text>
<text x="1118.36" y="671.6" font-size="10.8" text-anchor="middle" textLength="11.17" lengthAdjust="spacingAndGlyphs">36</text>
<text x="1160.47" y="671.6" font-size="10.8" text-anchor="middle" textLength="11.17" lengthAdjust="spacingAndGlyphs">40</text>
<text x="1008.8" y="685.4" font-size="9.9" text-anchor="end">Flow/<tspan font-style="italic">Caudal/Débit</tspan> Q(m<tspan font-size="6" dy="-3.4">3</tspan><tspan dy="3.4">/h)</tspan></text>
<line x1="737.4" y1="703.8" x2="1160.47" y2="703.8" stroke="#1d1a1b" stroke-width="1.35"/>
<line x1="739.4" y1="701.3" x2="739.4" y2="706.1" stroke="#1d1a1b" stroke-width="1.35"/>
<text x="739.4" y="718.4" font-size="10.8" text-anchor="middle" textLength="5.58" lengthAdjust="spacingAndGlyphs">0</text>
<line x1="763.31" y1="701.3" x2="763.31" y2="706.1" stroke="#1d1a1b" stroke-width="1.35"/>
<text x="763.31" y="718.4" font-size="10.8" text-anchor="middle" textLength="11.17" lengthAdjust="spacingAndGlyphs">10</text>
<line x1="787.22" y1="701.3" x2="787.22" y2="706.1" stroke="#1d1a1b" stroke-width="1.35"/>
<text x="787.22" y="718.4" font-size="10.8" text-anchor="middle" textLength="11.17" lengthAdjust="spacingAndGlyphs">20</text>
<line x1="811.13" y1="701.3" x2="811.13" y2="706.1" stroke="#1d1a1b" stroke-width="1.35"/>
<text x="811.13" y="718.4" font-size="10.8" text-anchor="middle" textLength="11.17" lengthAdjust="spacingAndGlyphs">30</text>
<line x1="835.04" y1="701.3" x2="835.04" y2="706.1" stroke="#1d1a1b" stroke-width="1.35"/>
<text x="835.04" y="718.4" font-size="10.8" text-anchor="middle" textLength="11.17" lengthAdjust="spacingAndGlyphs">40</text>
<line x1="858.94" y1="701.3" x2="858.94" y2="706.1" stroke="#1d1a1b" stroke-width="1.35"/>
<text x="858.94" y="718.4" font-size="10.8" text-anchor="middle" textLength="11.17" lengthAdjust="spacingAndGlyphs">50</text>
<line x1="882.85" y1="701.3" x2="882.85" y2="706.1" stroke="#1d1a1b" stroke-width="1.35"/>
<text x="882.85" y="718.4" font-size="10.8" text-anchor="middle" textLength="11.17" lengthAdjust="spacingAndGlyphs">60</text>
<line x1="906.76" y1="701.3" x2="906.76" y2="706.1" stroke="#1d1a1b" stroke-width="1.35"/>
<text x="906.76" y="718.4" font-size="10.8" text-anchor="middle" textLength="11.17" lengthAdjust="spacingAndGlyphs">70</text>
<line x1="930.67" y1="701.3" x2="930.67" y2="706.1" stroke="#1d1a1b" stroke-width="1.35"/>
<text x="930.67" y="718.4" font-size="10.8" text-anchor="middle" textLength="11.17" lengthAdjust="spacingAndGlyphs">80</text>
<line x1="954.58" y1="701.3" x2="954.58" y2="706.1" stroke="#1d1a1b" stroke-width="1.35"/>
<text x="954.58" y="718.4" font-size="10.8" text-anchor="middle" textLength="11.17" lengthAdjust="spacingAndGlyphs">90</text>
<line x1="978.49" y1="701.3" x2="978.49" y2="706.1" stroke="#1d1a1b" stroke-width="1.35"/>
<text x="978.49" y="718.4" font-size="10.8" text-anchor="middle" textLength="16.75" lengthAdjust="spacingAndGlyphs">100</text>
<line x1="1002.4" y1="701.3" x2="1002.4" y2="706.1" stroke="#1d1a1b" stroke-width="1.35"/>
<text x="1002.4" y="718.4" font-size="10.8" text-anchor="middle" textLength="16.75" lengthAdjust="spacingAndGlyphs">110</text>
<line x1="1026.31" y1="701.3" x2="1026.31" y2="706.1" stroke="#1d1a1b" stroke-width="1.35"/>
<text x="1026.31" y="718.4" font-size="10.8" text-anchor="middle" textLength="16.75" lengthAdjust="spacingAndGlyphs">120</text>
<line x1="1050.22" y1="701.3" x2="1050.22" y2="706.1" stroke="#1d1a1b" stroke-width="1.35"/>
<text x="1050.22" y="718.4" font-size="10.8" text-anchor="middle" textLength="16.75" lengthAdjust="spacingAndGlyphs">130</text>
<line x1="1074.12" y1="701.3" x2="1074.12" y2="706.1" stroke="#1d1a1b" stroke-width="1.35"/>
<text x="1074.12" y="718.4" font-size="10.8" text-anchor="middle" textLength="16.75" lengthAdjust="spacingAndGlyphs">140</text>
<line x1="1098.03" y1="701.3" x2="1098.03" y2="706.1" stroke="#1d1a1b" stroke-width="1.35"/>
<text x="1098.03" y="718.4" font-size="10.8" text-anchor="middle" textLength="16.75" lengthAdjust="spacingAndGlyphs">150</text>
<line x1="1121.94" y1="701.3" x2="1121.94" y2="706.1" stroke="#1d1a1b" stroke-width="1.35"/>
<text x="1121.94" y="718.4" font-size="10.8" text-anchor="middle" textLength="16.75" lengthAdjust="spacingAndGlyphs">160</text>
<line x1="1145.85" y1="701.3" x2="1145.85" y2="706.1" stroke="#1d1a1b" stroke-width="1.35"/>
<text x="1145.85" y="718.4" font-size="10.8" text-anchor="middle" textLength="16.75" lengthAdjust="spacingAndGlyphs">170</text>
<text x="1012" y="732.1" font-size="9.9" text-anchor="end">Flow/<tspan font-style="italic">Caudal/Débit</tspan><tspan xml:space="preserve">   US gpm</tspan></text>
</svg>
</body>
</html>
